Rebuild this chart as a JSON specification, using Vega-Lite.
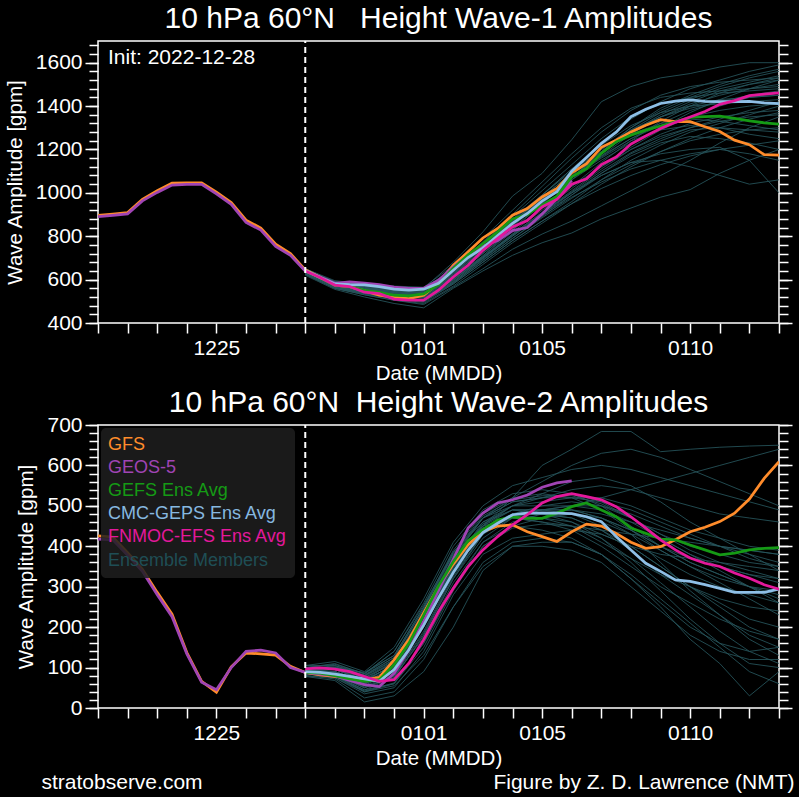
{
"$schema":"https://vega.github.io/schema/vega-lite/v6.json",
"background":"#000000",
"padding":{"left":4,"top":3,"right":4,"bottom":4},
"config":{
 "font":"Liberation Sans",
 "view":{"stroke":"#ffffff","strokeWidth":1.5},
 "axis":{"grid":false,"domain":false,"tickColor":"#ffffff","tickWidth":1.5,"labelColor":"#ffffff","labelFontSize":21,"titleColor":"#ffffff","titleFontSize":20.5,"titleFontWeight":"normal"},
 "title":{"color":"#ffffff","fontSize":30,"fontWeight":"normal","offset":6},
 "concat":{"spacing":2}
},
"datasets":{
"w1_ana":[
{"model":"GFS","date":"2022-12-21T00:00","value":896},{"model":"GFS","date":"2022-12-21T12:00","value":902},{"model":"GFS","date":"2022-12-22T00:00","value":909},{"model":"GFS","date":"2022-12-22T12:00","value":970},{"model":"GFS","date":"2022-12-23T00:00","value":1010},{"model":"GFS","date":"2022-12-23T12:00","value":1045},{"model":"GFS","date":"2022-12-24T00:00","value":1046},{"model":"GFS","date":"2022-12-24T12:00","value":1046},{"model":"GFS","date":"2022-12-25T00:00","value":1003},{"model":"GFS","date":"2022-12-25T12:00","value":955},{"model":"GFS","date":"2022-12-26T00:00","value":874},{"model":"GFS","date":"2022-12-26T12:00","value":838},{"model":"GFS","date":"2022-12-27T00:00","value":763},{"model":"GFS","date":"2022-12-27T12:00","value":720},{"model":"GFS","date":"2022-12-28T00:00","value":645},
{"model":"GEOS-5","date":"2022-12-21T00:00","value":890},{"model":"GEOS-5","date":"2022-12-21T12:00","value":896},{"model":"GEOS-5","date":"2022-12-22T00:00","value":903},{"model":"GEOS-5","date":"2022-12-22T12:00","value":963},{"model":"GEOS-5","date":"2022-12-23T00:00","value":1002},{"model":"GEOS-5","date":"2022-12-23T12:00","value":1036},{"model":"GEOS-5","date":"2022-12-24T00:00","value":1039},{"model":"GEOS-5","date":"2022-12-24T12:00","value":1039},{"model":"GEOS-5","date":"2022-12-25T00:00","value":995},{"model":"GEOS-5","date":"2022-12-25T12:00","value":947},{"model":"GEOS-5","date":"2022-12-26T00:00","value":864},{"model":"GEOS-5","date":"2022-12-26T12:00","value":828},{"model":"GEOS-5","date":"2022-12-27T00:00","value":753},{"model":"GEOS-5","date":"2022-12-27T12:00","value":712},{"model":"GEOS-5","date":"2022-12-28T00:00","value":640}
],
"w1_fc":[
{"model":"GFS","date":"2022-12-28T00:00","value":645},{"model":"GFS","date":"2022-12-28T12:00","value":611},{"model":"GFS","date":"2022-12-29T00:00","value":574},{"model":"GFS","date":"2022-12-29T12:00","value":568},{"model":"GFS","date":"2022-12-30T00:00","value":548},{"model":"GFS","date":"2022-12-30T12:00","value":528},{"model":"GFS","date":"2022-12-31T00:00","value":518},{"model":"GFS","date":"2022-12-31T12:00","value":512},{"model":"GFS","date":"2023-01-01T00:00","value":528},{"model":"GFS","date":"2023-01-01T12:00","value":585},{"model":"GFS","date":"2023-01-02T00:00","value":666},{"model":"GFS","date":"2023-01-02T12:00","value":728},{"model":"GFS","date":"2023-01-03T00:00","value":792},{"model":"GFS","date":"2023-01-03T12:00","value":836},{"model":"GFS","date":"2023-01-04T00:00","value":897},{"model":"GFS","date":"2023-01-04T12:00","value":928},{"model":"GFS","date":"2023-01-05T00:00","value":981},{"model":"GFS","date":"2023-01-05T12:00","value":1020},{"model":"GFS","date":"2023-01-06T00:00","value":1092},{"model":"GFS","date":"2023-01-06T12:00","value":1135},{"model":"GFS","date":"2023-01-07T00:00","value":1210},{"model":"GFS","date":"2023-01-07T12:00","value":1243},{"model":"GFS","date":"2023-01-08T00:00","value":1281},{"model":"GFS","date":"2023-01-08T12:00","value":1312},{"model":"GFS","date":"2023-01-09T00:00","value":1337},{"model":"GFS","date":"2023-01-09T12:00","value":1328},{"model":"GFS","date":"2023-01-10T00:00","value":1328},{"model":"GFS","date":"2023-01-10T12:00","value":1305},{"model":"GFS","date":"2023-01-11T00:00","value":1283},{"model":"GFS","date":"2023-01-11T12:00","value":1243},{"model":"GFS","date":"2023-01-12T00:00","value":1222},{"model":"GFS","date":"2023-01-12T12:00","value":1176},{"model":"GFS","date":"2023-01-13T00:00","value":1174},
{"model":"GEOS-5","date":"2022-12-28T00:00","value":640},{"model":"GEOS-5","date":"2022-12-28T12:00","value":612},{"model":"GEOS-5","date":"2022-12-29T00:00","value":583},{"model":"GEOS-5","date":"2022-12-29T12:00","value":589},{"model":"GEOS-5","date":"2022-12-30T00:00","value":584},{"model":"GEOS-5","date":"2022-12-30T12:00","value":577},{"model":"GEOS-5","date":"2022-12-31T00:00","value":565},{"model":"GEOS-5","date":"2022-12-31T12:00","value":560},{"model":"GEOS-5","date":"2023-01-01T00:00","value":560},{"model":"GEOS-5","date":"2023-01-01T12:00","value":597},{"model":"GEOS-5","date":"2023-01-02T00:00","value":658},{"model":"GEOS-5","date":"2023-01-02T12:00","value":712},{"model":"GEOS-5","date":"2023-01-03T00:00","value":755},{"model":"GEOS-5","date":"2023-01-03T12:00","value":780},{"model":"GEOS-5","date":"2023-01-04T00:00","value":826},{"model":"GEOS-5","date":"2023-01-04T12:00","value":840},{"model":"GEOS-5","date":"2023-01-05T00:00","value":902},{"model":"GEOS-5","date":"2023-01-05T12:00","value":975},{"model":"GEOS-5","date":"2023-01-06T00:00","value":1058},
{"model":"GEFS Ens Avg","date":"2022-12-28T00:00","value":640},{"model":"GEFS Ens Avg","date":"2022-12-28T12:00","value":608},{"model":"GEFS Ens Avg","date":"2022-12-29T00:00","value":574},{"model":"GEFS Ens Avg","date":"2022-12-29T12:00","value":568},{"model":"GEFS Ens Avg","date":"2022-12-30T00:00","value":551},{"model":"GEFS Ens Avg","date":"2022-12-30T12:00","value":541},{"model":"GEFS Ens Avg","date":"2022-12-31T00:00","value":528},{"model":"GEFS Ens Avg","date":"2022-12-31T12:00","value":525},{"model":"GEFS Ens Avg","date":"2023-01-01T00:00","value":534},{"model":"GEFS Ens Avg","date":"2023-01-01T12:00","value":578},{"model":"GEFS Ens Avg","date":"2023-01-02T00:00","value":652},{"model":"GEFS Ens Avg","date":"2023-01-02T12:00","value":714},{"model":"GEFS Ens Avg","date":"2023-01-03T00:00","value":766},{"model":"GEFS Ens Avg","date":"2023-01-03T12:00","value":820},{"model":"GEFS Ens Avg","date":"2023-01-04T00:00","value":880},{"model":"GEFS Ens Avg","date":"2023-01-04T12:00","value":900},{"model":"GEFS Ens Avg","date":"2023-01-05T00:00","value":943},{"model":"GEFS Ens Avg","date":"2023-01-05T12:00","value":985},{"model":"GEFS Ens Avg","date":"2023-01-06T00:00","value":1074},{"model":"GEFS Ens Avg","date":"2023-01-06T12:00","value":1112},{"model":"GEFS Ens Avg","date":"2023-01-07T00:00","value":1182},{"model":"GEFS Ens Avg","date":"2023-01-07T12:00","value":1235},{"model":"GEFS Ens Avg","date":"2023-01-08T00:00","value":1266},{"model":"GEFS Ens Avg","date":"2023-01-08T12:00","value":1289},{"model":"GEFS Ens Avg","date":"2023-01-09T00:00","value":1308},{"model":"GEFS Ens Avg","date":"2023-01-09T12:00","value":1328},{"model":"GEFS Ens Avg","date":"2023-01-10T00:00","value":1348},{"model":"GEFS Ens Avg","date":"2023-01-10T12:00","value":1351},{"model":"GEFS Ens Avg","date":"2023-01-11T00:00","value":1354},{"model":"GEFS Ens Avg","date":"2023-01-11T12:00","value":1343},{"model":"GEFS Ens Avg","date":"2023-01-12T00:00","value":1332},{"model":"GEFS Ens Avg","date":"2023-01-12T12:00","value":1323},{"model":"GEFS Ens Avg","date":"2023-01-13T00:00","value":1317},
{"model":"CMC-GEPS Ens Avg","date":"2022-12-28T00:00","value":642},{"model":"CMC-GEPS Ens Avg","date":"2022-12-28T12:00","value":610},{"model":"CMC-GEPS Ens Avg","date":"2022-12-29T00:00","value":580},{"model":"CMC-GEPS Ens Avg","date":"2022-12-29T12:00","value":577},{"model":"CMC-GEPS Ens Avg","date":"2022-12-30T00:00","value":576},{"model":"CMC-GEPS Ens Avg","date":"2022-12-30T12:00","value":568},{"model":"CMC-GEPS Ens Avg","date":"2022-12-31T00:00","value":556},{"model":"CMC-GEPS Ens Avg","date":"2022-12-31T12:00","value":552},{"model":"CMC-GEPS Ens Avg","date":"2023-01-01T00:00","value":556},{"model":"CMC-GEPS Ens Avg","date":"2023-01-01T12:00","value":583},{"model":"CMC-GEPS Ens Avg","date":"2023-01-02T00:00","value":643},{"model":"CMC-GEPS Ens Avg","date":"2023-01-02T12:00","value":702},{"model":"CMC-GEPS Ens Avg","date":"2023-01-03T00:00","value":745},{"model":"CMC-GEPS Ens Avg","date":"2023-01-03T12:00","value":803},{"model":"CMC-GEPS Ens Avg","date":"2023-01-04T00:00","value":859},{"model":"CMC-GEPS Ens Avg","date":"2023-01-04T12:00","value":905},{"model":"CMC-GEPS Ens Avg","date":"2023-01-05T00:00","value":962},{"model":"CMC-GEPS Ens Avg","date":"2023-01-05T12:00","value":1005},{"model":"CMC-GEPS Ens Avg","date":"2023-01-06T00:00","value":1100},{"model":"CMC-GEPS Ens Avg","date":"2023-01-06T12:00","value":1163},{"model":"CMC-GEPS Ens Avg","date":"2023-01-07T00:00","value":1228},{"model":"CMC-GEPS Ens Avg","date":"2023-01-07T12:00","value":1280},{"model":"CMC-GEPS Ens Avg","date":"2023-01-08T00:00","value":1351},{"model":"CMC-GEPS Ens Avg","date":"2023-01-08T12:00","value":1385},{"model":"CMC-GEPS Ens Avg","date":"2023-01-09T00:00","value":1412},{"model":"CMC-GEPS Ens Avg","date":"2023-01-09T12:00","value":1423},{"model":"CMC-GEPS Ens Avg","date":"2023-01-10T00:00","value":1429},{"model":"CMC-GEPS Ens Avg","date":"2023-01-10T12:00","value":1422},{"model":"CMC-GEPS Ens Avg","date":"2023-01-11T00:00","value":1420},{"model":"CMC-GEPS Ens Avg","date":"2023-01-11T12:00","value":1420},{"model":"CMC-GEPS Ens Avg","date":"2023-01-12T00:00","value":1422},{"model":"CMC-GEPS Ens Avg","date":"2023-01-12T12:00","value":1415},{"model":"CMC-GEPS Ens Avg","date":"2023-01-13T00:00","value":1411},
{"model":"FNMOC-EFS Ens Avg","date":"2022-12-28T00:00","value":640},{"model":"FNMOC-EFS Ens Avg","date":"2022-12-28T12:00","value":610},{"model":"FNMOC-EFS Ens Avg","date":"2022-12-29T00:00","value":575},{"model":"FNMOC-EFS Ens Avg","date":"2022-12-29T12:00","value":568},{"model":"FNMOC-EFS Ens Avg","date":"2022-12-30T00:00","value":542},{"model":"FNMOC-EFS Ens Avg","date":"2022-12-30T12:00","value":535},{"model":"FNMOC-EFS Ens Avg","date":"2022-12-31T00:00","value":510},{"model":"FNMOC-EFS Ens Avg","date":"2022-12-31T12:00","value":505},{"model":"FNMOC-EFS Ens Avg","date":"2023-01-01T00:00","value":505},{"model":"FNMOC-EFS Ens Avg","date":"2023-01-01T12:00","value":551},{"model":"FNMOC-EFS Ens Avg","date":"2023-01-02T00:00","value":612},{"model":"FNMOC-EFS Ens Avg","date":"2023-01-02T12:00","value":666},{"model":"FNMOC-EFS Ens Avg","date":"2023-01-03T00:00","value":735},{"model":"FNMOC-EFS Ens Avg","date":"2023-01-03T12:00","value":790},{"model":"FNMOC-EFS Ens Avg","date":"2023-01-04T00:00","value":843},{"model":"FNMOC-EFS Ens Avg","date":"2023-01-04T12:00","value":872},{"model":"FNMOC-EFS Ens Avg","date":"2023-01-05T00:00","value":935},{"model":"FNMOC-EFS Ens Avg","date":"2023-01-05T12:00","value":970},{"model":"FNMOC-EFS Ens Avg","date":"2023-01-06T00:00","value":1040},{"model":"FNMOC-EFS Ens Avg","date":"2023-01-06T12:00","value":1065},{"model":"FNMOC-EFS Ens Avg","date":"2023-01-07T00:00","value":1130},{"model":"FNMOC-EFS Ens Avg","date":"2023-01-07T12:00","value":1165},{"model":"FNMOC-EFS Ens Avg","date":"2023-01-08T00:00","value":1225},{"model":"FNMOC-EFS Ens Avg","date":"2023-01-08T12:00","value":1262},{"model":"FNMOC-EFS Ens Avg","date":"2023-01-09T00:00","value":1297},{"model":"FNMOC-EFS Ens Avg","date":"2023-01-09T12:00","value":1325},{"model":"FNMOC-EFS Ens Avg","date":"2023-01-10T00:00","value":1350},{"model":"FNMOC-EFS Ens Avg","date":"2023-01-10T12:00","value":1375},{"model":"FNMOC-EFS Ens Avg","date":"2023-01-11T00:00","value":1408},{"model":"FNMOC-EFS Ens Avg","date":"2023-01-11T12:00","value":1425},{"model":"FNMOC-EFS Ens Avg","date":"2023-01-12T00:00","value":1448},{"model":"FNMOC-EFS Ens Avg","date":"2023-01-12T12:00","value":1455},{"model":"FNMOC-EFS Ens Avg","date":"2023-01-13T00:00","value":1461}
],
"w1_ens":[
{"member":"T1","date":"2022-12-28T00:00","value":645},{"member":"T1","date":"2022-12-29T00:00","value":590},{"member":"T1","date":"2022-12-30T00:00","value":575},{"member":"T1","date":"2022-12-31T00:00","value":560},{"member":"T1","date":"2023-01-01T00:00","value":560},{"member":"T1","date":"2023-01-02T00:00","value":650},{"member":"T1","date":"2023-01-03T00:00","value":760},{"member":"T1","date":"2023-01-04T00:00","value":880},{"member":"T1","date":"2023-01-05T00:00","value":990},{"member":"T1","date":"2023-01-06T00:00","value":1110},{"member":"T1","date":"2023-01-07T00:00","value":1230},{"member":"T1","date":"2023-01-08T00:00","value":1340},{"member":"T1","date":"2023-01-09T00:00","value":1420},{"member":"T1","date":"2023-01-10T00:00","value":1480},{"member":"T1","date":"2023-01-11T00:00","value":1520},{"member":"T1","date":"2023-01-12T00:00","value":1560},{"member":"T1","date":"2023-01-13T00:00","value":1590},
{"member":"T2","date":"2022-12-28T00:00","value":640},{"member":"T2","date":"2022-12-29T00:00","value":585},{"member":"T2","date":"2022-12-30T00:00","value":570},{"member":"T2","date":"2022-12-31T00:00","value":565},{"member":"T2","date":"2023-01-01T00:00","value":560},{"member":"T2","date":"2023-01-02T00:00","value":680},{"member":"T2","date":"2023-01-03T00:00","value":820},{"member":"T2","date":"2023-01-04T00:00","value":985},{"member":"T2","date":"2023-01-05T00:00","value":1090},{"member":"T2","date":"2023-01-06T00:00","value":1245},{"member":"T2","date":"2023-01-07T00:00","value":1420},{"member":"T2","date":"2023-01-08T00:00","value":1490},{"member":"T2","date":"2023-01-09T00:00","value":1530},{"member":"T2","date":"2023-01-10T00:00","value":1550},{"member":"T2","date":"2023-01-11T00:00","value":1580},{"member":"T2","date":"2023-01-12T00:00","value":1600},{"member":"T2","date":"2023-01-13T00:00","value":1600},
{"member":"T3","date":"2022-12-28T00:00","value":635},{"member":"T3","date":"2022-12-29T00:00","value":575},{"member":"T3","date":"2022-12-30T00:00","value":550},{"member":"T3","date":"2022-12-31T00:00","value":530},{"member":"T3","date":"2023-01-01T00:00","value":520},{"member":"T3","date":"2023-01-02T00:00","value":610},{"member":"T3","date":"2023-01-03T00:00","value":720},{"member":"T3","date":"2023-01-04T00:00","value":830},{"member":"T3","date":"2023-01-05T00:00","value":930},{"member":"T3","date":"2023-01-06T00:00","value":1030},{"member":"T3","date":"2023-01-07T00:00","value":1120},{"member":"T3","date":"2023-01-08T00:00","value":1200},{"member":"T3","date":"2023-01-09T00:00","value":1260},{"member":"T3","date":"2023-01-10T00:00","value":1300},{"member":"T3","date":"2023-01-11T00:00","value":1330},{"member":"T3","date":"2023-01-12T00:00","value":1350},{"member":"T3","date":"2023-01-13T00:00","value":1360},
{"member":"T4","date":"2022-12-28T00:00","value":650},{"member":"T4","date":"2022-12-29T00:00","value":580},{"member":"T4","date":"2022-12-30T00:00","value":560},{"member":"T4","date":"2022-12-31T00:00","value":545},{"member":"T4","date":"2023-01-01T00:00","value":535},{"member":"T4","date":"2023-01-02T00:00","value":625},{"member":"T4","date":"2023-01-03T00:00","value":735},{"member":"T4","date":"2023-01-04T00:00","value":845},{"member":"T4","date":"2023-01-05T00:00","value":960},{"member":"T4","date":"2023-01-06T00:00","value":1070},{"member":"T4","date":"2023-01-07T00:00","value":1180},{"member":"T4","date":"2023-01-08T00:00","value":1280},{"member":"T4","date":"2023-01-09T00:00","value":1350},{"member":"T4","date":"2023-01-10T00:00","value":1400},{"member":"T4","date":"2023-01-11T00:00","value":1430},{"member":"T4","date":"2023-01-12T00:00","value":1440},{"member":"T4","date":"2023-01-13T00:00","value":1450},
{"member":"T5","date":"2022-12-28T00:00","value":630},{"member":"T5","date":"2022-12-29T00:00","value":570},{"member":"T5","date":"2022-12-30T00:00","value":540},{"member":"T5","date":"2022-12-31T00:00","value":510},{"member":"T5","date":"2023-01-01T00:00","value":495},{"member":"T5","date":"2023-01-02T00:00","value":580},{"member":"T5","date":"2023-01-03T00:00","value":680},{"member":"T5","date":"2023-01-04T00:00","value":780},{"member":"T5","date":"2023-01-05T00:00","value":870},{"member":"T5","date":"2023-01-06T00:00","value":960},{"member":"T5","date":"2023-01-07T00:00","value":1060},{"member":"T5","date":"2023-01-08T00:00","value":1150},{"member":"T5","date":"2023-01-09T00:00","value":1220},{"member":"T5","date":"2023-01-10T00:00","value":1280},{"member":"T5","date":"2023-01-11T00:00","value":1320},{"member":"T5","date":"2023-01-12T00:00","value":1360},{"member":"T5","date":"2023-01-13T00:00","value":1400},
{"member":"T6","date":"2022-12-28T00:00","value":640},{"member":"T6","date":"2022-12-29T00:00","value":575},{"member":"T6","date":"2022-12-30T00:00","value":555},{"member":"T6","date":"2022-12-31T00:00","value":540},{"member":"T6","date":"2023-01-01T00:00","value":530},{"member":"T6","date":"2023-01-02T00:00","value":620},{"member":"T6","date":"2023-01-03T00:00","value":740},{"member":"T6","date":"2023-01-04T00:00","value":860},{"member":"T6","date":"2023-01-05T00:00","value":980},{"member":"T6","date":"2023-01-06T00:00","value":1090},{"member":"T6","date":"2023-01-07T00:00","value":1190},{"member":"T6","date":"2023-01-08T00:00","value":1270},{"member":"T6","date":"2023-01-09T00:00","value":1320},{"member":"T6","date":"2023-01-10T00:00","value":1340},{"member":"T6","date":"2023-01-11T00:00","value":1330},{"member":"T6","date":"2023-01-12T00:00","value":1310},{"member":"T6","date":"2023-01-13T00:00","value":1290},
{"member":"T7","date":"2022-12-28T00:00","value":625},{"member":"T7","date":"2022-12-29T00:00","value":560},{"member":"T7","date":"2022-12-30T00:00","value":530},{"member":"T7","date":"2022-12-31T00:00","value":505},{"member":"T7","date":"2023-01-01T00:00","value":485},{"member":"T7","date":"2023-01-02T00:00","value":565},{"member":"T7","date":"2023-01-03T00:00","value":650},{"member":"T7","date":"2023-01-04T00:00","value":740},{"member":"T7","date":"2023-01-05T00:00","value":810},{"member":"T7","date":"2023-01-06T00:00","value":870},{"member":"T7","date":"2023-01-07T00:00","value":940},{"member":"T7","date":"2023-01-08T00:00","value":1010},{"member":"T7","date":"2023-01-09T00:00","value":1080},{"member":"T7","date":"2023-01-10T00:00","value":1150},{"member":"T7","date":"2023-01-11T00:00","value":1230},{"member":"T7","date":"2023-01-12T00:00","value":1300},{"member":"T7","date":"2023-01-13T00:00","value":1350},
{"member":"T8","date":"2022-12-28T00:00","value":645},{"member":"T8","date":"2022-12-29T00:00","value":585},{"member":"T8","date":"2022-12-30T00:00","value":565},{"member":"T8","date":"2022-12-31T00:00","value":550},{"member":"T8","date":"2023-01-01T00:00","value":545},{"member":"T8","date":"2023-01-02T00:00","value":640},{"member":"T8","date":"2023-01-03T00:00","value":760},{"member":"T8","date":"2023-01-04T00:00","value":870},{"member":"T8","date":"2023-01-05T00:00","value":970},{"member":"T8","date":"2023-01-06T00:00","value":1060},{"member":"T8","date":"2023-01-07T00:00","value":1150},{"member":"T8","date":"2023-01-08T00:00","value":1230},{"member":"T8","date":"2023-01-09T00:00","value":1300},{"member":"T8","date":"2023-01-10T00:00","value":1370},{"member":"T8","date":"2023-01-11T00:00","value":1430},{"member":"T8","date":"2023-01-12T00:00","value":1480},{"member":"T8","date":"2023-01-13T00:00","value":1520},
{"member":"T9","date":"2022-12-28T00:00","value":635},{"member":"T9","date":"2022-12-29T00:00","value":570},{"member":"T9","date":"2022-12-30T00:00","value":545},{"member":"T9","date":"2022-12-31T00:00","value":525},{"member":"T9","date":"2023-01-01T00:00","value":515},{"member":"T9","date":"2023-01-02T00:00","value":600},{"member":"T9","date":"2023-01-03T00:00","value":700},{"member":"T9","date":"2023-01-04T00:00","value":800},{"member":"T9","date":"2023-01-05T00:00","value":900},{"member":"T9","date":"2023-01-06T00:00","value":1000},{"member":"T9","date":"2023-01-07T00:00","value":1090},{"member":"T9","date":"2023-01-08T00:00","value":1170},{"member":"T9","date":"2023-01-09T00:00","value":1230},{"member":"T9","date":"2023-01-10T00:00","value":1260},{"member":"T9","date":"2023-01-11T00:00","value":1250},{"member":"T9","date":"2023-01-12T00:00","value":1230},{"member":"T9","date":"2023-01-13T00:00","value":1200},
{"member":"T10","date":"2022-12-28T00:00","value":640},{"member":"T10","date":"2022-12-29T00:00","value":580},{"member":"T10","date":"2022-12-30T00:00","value":560},{"member":"T10","date":"2022-12-31T00:00","value":540},{"member":"T10","date":"2023-01-01T00:00","value":530},{"member":"T10","date":"2023-01-02T00:00","value":615},{"member":"T10","date":"2023-01-03T00:00","value":720},{"member":"T10","date":"2023-01-04T00:00","value":830},{"member":"T10","date":"2023-01-05T00:00","value":930},{"member":"T10","date":"2023-01-06T00:00","value":1030},{"member":"T10","date":"2023-01-07T00:00","value":1140},{"member":"T10","date":"2023-01-08T00:00","value":1240},{"member":"T10","date":"2023-01-09T00:00","value":1330},{"member":"T10","date":"2023-01-10T00:00","value":1400},{"member":"T10","date":"2023-01-11T00:00","value":1460},{"member":"T10","date":"2023-01-12T00:00","value":1500},{"member":"T10","date":"2023-01-13T00:00","value":1530},
{"member":"T11","date":"2022-12-28T00:00","value":630},{"member":"T11","date":"2022-12-29T00:00","value":565},{"member":"T11","date":"2022-12-30T00:00","value":535},{"member":"T11","date":"2022-12-31T00:00","value":515},{"member":"T11","date":"2023-01-01T00:00","value":500},{"member":"T11","date":"2023-01-02T00:00","value":585},{"member":"T11","date":"2023-01-03T00:00","value":690},{"member":"T11","date":"2023-01-04T00:00","value":790},{"member":"T11","date":"2023-01-05T00:00","value":890},{"member":"T11","date":"2023-01-06T00:00","value":990},{"member":"T11","date":"2023-01-07T00:00","value":1090},{"member":"T11","date":"2023-01-08T00:00","value":1180},{"member":"T11","date":"2023-01-09T00:00","value":1240},{"member":"T11","date":"2023-01-10T00:00","value":1290},{"member":"T11","date":"2023-01-11T00:00","value":1300},{"member":"T11","date":"2023-01-12T00:00","value":1290},{"member":"T11","date":"2023-01-13T00:00","value":1280},
{"member":"T12","date":"2022-12-28T00:00","value":650},{"member":"T12","date":"2022-12-29T00:00","value":590},{"member":"T12","date":"2022-12-30T00:00","value":570},{"member":"T12","date":"2022-12-31T00:00","value":555},{"member":"T12","date":"2023-01-01T00:00","value":550},{"member":"T12","date":"2023-01-02T00:00","value":650},{"member":"T12","date":"2023-01-03T00:00","value":770},{"member":"T12","date":"2023-01-04T00:00","value":890},{"member":"T12","date":"2023-01-05T00:00","value":1010},{"member":"T12","date":"2023-01-06T00:00","value":1130},{"member":"T12","date":"2023-01-07T00:00","value":1250},{"member":"T12","date":"2023-01-08T00:00","value":1350},{"member":"T12","date":"2023-01-09T00:00","value":1410},{"member":"T12","date":"2023-01-10T00:00","value":1440},{"member":"T12","date":"2023-01-11T00:00","value":1460},{"member":"T12","date":"2023-01-12T00:00","value":1470},{"member":"T12","date":"2023-01-13T00:00","value":1480},
{"member":"T13","date":"2022-12-28T00:00","value":620},{"member":"T13","date":"2022-12-29T00:00","value":555},{"member":"T13","date":"2022-12-30T00:00","value":520},{"member":"T13","date":"2022-12-31T00:00","value":490},{"member":"T13","date":"2023-01-01T00:00","value":470},{"member":"T13","date":"2023-01-02T00:00","value":560},{"member":"T13","date":"2023-01-03T00:00","value":640},{"member":"T13","date":"2023-01-04T00:00","value":712},{"member":"T13","date":"2023-01-05T00:00","value":770},{"member":"T13","date":"2023-01-06T00:00","value":815},{"member":"T13","date":"2023-01-07T00:00","value":880},{"member":"T13","date":"2023-01-08T00:00","value":930},{"member":"T13","date":"2023-01-09T00:00","value":980},{"member":"T13","date":"2023-01-10T00:00","value":1015},{"member":"T13","date":"2023-01-11T00:00","value":1090},{"member":"T13","date":"2023-01-12T00:00","value":1150},{"member":"T13","date":"2023-01-13T00:00","value":1200},
{"member":"T14","date":"2022-12-28T00:00","value":640},{"member":"T14","date":"2022-12-29T00:00","value":575},{"member":"T14","date":"2022-12-30T00:00","value":550},{"member":"T14","date":"2022-12-31T00:00","value":530},{"member":"T14","date":"2023-01-01T00:00","value":525},{"member":"T14","date":"2023-01-02T00:00","value":610},{"member":"T14","date":"2023-01-03T00:00","value":710},{"member":"T14","date":"2023-01-04T00:00","value":820},{"member":"T14","date":"2023-01-05T00:00","value":920},{"member":"T14","date":"2023-01-06T00:00","value":1020},{"member":"T14","date":"2023-01-07T00:00","value":1120},{"member":"T14","date":"2023-01-08T00:00","value":1210},{"member":"T14","date":"2023-01-09T00:00","value":1290},{"member":"T14","date":"2023-01-10T00:00","value":1350},{"member":"T14","date":"2023-01-11T00:00","value":1400},{"member":"T14","date":"2023-01-12T00:00","value":1440},{"member":"T14","date":"2023-01-13T00:00","value":1460},
{"member":"T15","date":"2022-12-28T00:00","value":645},{"member":"T15","date":"2022-12-29T00:00","value":580},{"member":"T15","date":"2022-12-30T00:00","value":560},{"member":"T15","date":"2022-12-31T00:00","value":545},{"member":"T15","date":"2023-01-01T00:00","value":540},{"member":"T15","date":"2023-01-02T00:00","value":630},{"member":"T15","date":"2023-01-03T00:00","value":750},{"member":"T15","date":"2023-01-04T00:00","value":870},{"member":"T15","date":"2023-01-05T00:00","value":990},{"member":"T15","date":"2023-01-06T00:00","value":1110},{"member":"T15","date":"2023-01-07T00:00","value":1220},{"member":"T15","date":"2023-01-08T00:00","value":1310},{"member":"T15","date":"2023-01-09T00:00","value":1370},{"member":"T15","date":"2023-01-10T00:00","value":1400},{"member":"T15","date":"2023-01-11T00:00","value":1410},{"member":"T15","date":"2023-01-12T00:00","value":1420},{"member":"T15","date":"2023-01-13T00:00","value":1430},
{"member":"T16","date":"2022-12-28T00:00","value":630},{"member":"T16","date":"2022-12-29T00:00","value":565},{"member":"T16","date":"2022-12-30T00:00","value":540},{"member":"T16","date":"2022-12-31T00:00","value":515},{"member":"T16","date":"2023-01-01T00:00","value":505},{"member":"T16","date":"2023-01-02T00:00","value":590},{"member":"T16","date":"2023-01-03T00:00","value":695},{"member":"T16","date":"2023-01-04T00:00","value":800},{"member":"T16","date":"2023-01-05T00:00","value":900},{"member":"T16","date":"2023-01-06T00:00","value":990},{"member":"T16","date":"2023-01-07T00:00","value":1080},{"member":"T16","date":"2023-01-08T00:00","value":1140},{"member":"T16","date":"2023-01-09T00:00","value":1150},{"member":"T16","date":"2023-01-10T00:00","value":1120},{"member":"T16","date":"2023-01-11T00:00","value":1080},{"member":"T16","date":"2023-01-12T00:00","value":1040},{"member":"T16","date":"2023-01-13T00:00","value":1060},
{"member":"T17","date":"2022-12-28T00:00","value":640},{"member":"T17","date":"2022-12-29T00:00","value":575},{"member":"T17","date":"2022-12-30T00:00","value":555},{"member":"T17","date":"2022-12-31T00:00","value":535},{"member":"T17","date":"2023-01-01T00:00","value":525},{"member":"T17","date":"2023-01-02T00:00","value":615},{"member":"T17","date":"2023-01-03T00:00","value":730},{"member":"T17","date":"2023-01-04T00:00","value":850},{"member":"T17","date":"2023-01-05T00:00","value":970},{"member":"T17","date":"2023-01-06T00:00","value":1080},{"member":"T17","date":"2023-01-07T00:00","value":1190},{"member":"T17","date":"2023-01-08T00:00","value":1290},{"member":"T17","date":"2023-01-09T00:00","value":1370},{"member":"T17","date":"2023-01-10T00:00","value":1430},{"member":"T17","date":"2023-01-11T00:00","value":1480},{"member":"T17","date":"2023-01-12T00:00","value":1510},{"member":"T17","date":"2023-01-13T00:00","value":1540},
{"member":"T18","date":"2022-12-28T00:00","value":650},{"member":"T18","date":"2022-12-29T00:00","value":590},{"member":"T18","date":"2022-12-30T00:00","value":575},{"member":"T18","date":"2022-12-31T00:00","value":560},{"member":"T18","date":"2023-01-01T00:00","value":555},{"member":"T18","date":"2023-01-02T00:00","value":650},{"member":"T18","date":"2023-01-03T00:00","value":775},{"member":"T18","date":"2023-01-04T00:00","value":900},{"member":"T18","date":"2023-01-05T00:00","value":1030},{"member":"T18","date":"2023-01-06T00:00","value":1160},{"member":"T18","date":"2023-01-07T00:00","value":1280},{"member":"T18","date":"2023-01-08T00:00","value":1380},{"member":"T18","date":"2023-01-09T00:00","value":1450},{"member":"T18","date":"2023-01-10T00:00","value":1490},{"member":"T18","date":"2023-01-11T00:00","value":1510},{"member":"T18","date":"2023-01-12T00:00","value":1520},{"member":"T18","date":"2023-01-13T00:00","value":1530},
{"member":"T19","date":"2022-12-28T00:00","value":625},{"member":"T19","date":"2022-12-29T00:00","value":560},{"member":"T19","date":"2022-12-30T00:00","value":530},{"member":"T19","date":"2022-12-31T00:00","value":505},{"member":"T19","date":"2023-01-01T00:00","value":490},{"member":"T19","date":"2023-01-02T00:00","value":570},{"member":"T19","date":"2023-01-03T00:00","value":670},{"member":"T19","date":"2023-01-04T00:00","value":770},{"member":"T19","date":"2023-01-05T00:00","value":860},{"member":"T19","date":"2023-01-06T00:00","value":950},{"member":"T19","date":"2023-01-07T00:00","value":1040},{"member":"T19","date":"2023-01-08T00:00","value":1120},{"member":"T19","date":"2023-01-09T00:00","value":1190},{"member":"T19","date":"2023-01-10T00:00","value":1250},{"member":"T19","date":"2023-01-11T00:00","value":1300},{"member":"T19","date":"2023-01-12T00:00","value":1340},{"member":"T19","date":"2023-01-13T00:00","value":1370},
{"member":"T20","date":"2022-12-28T00:00","value":645},{"member":"T20","date":"2022-12-29T00:00","value":585},{"member":"T20","date":"2022-12-30T00:00","value":565},{"member":"T20","date":"2022-12-31T00:00","value":550},{"member":"T20","date":"2023-01-01T00:00","value":540},{"member":"T20","date":"2023-01-02T00:00","value":630},{"member":"T20","date":"2023-01-03T00:00","value":745},{"member":"T20","date":"2023-01-04T00:00","value":860},{"member":"T20","date":"2023-01-05T00:00","value":970},{"member":"T20","date":"2023-01-06T00:00","value":1070},{"member":"T20","date":"2023-01-07T00:00","value":1160},{"member":"T20","date":"2023-01-08T00:00","value":1240},{"member":"T20","date":"2023-01-09T00:00","value":1290},{"member":"T20","date":"2023-01-10T00:00","value":1310},{"member":"T20","date":"2023-01-11T00:00","value":1300},{"member":"T20","date":"2023-01-12T00:00","value":1270},{"member":"T20","date":"2023-01-13T00:00","value":1250},
{"member":"T21","date":"2022-12-28T00:00","value":635},{"member":"T21","date":"2022-12-29T00:00","value":570},{"member":"T21","date":"2022-12-30T00:00","value":545},{"member":"T21","date":"2022-12-31T00:00","value":520},{"member":"T21","date":"2023-01-01T00:00","value":505},{"member":"T21","date":"2023-01-02T00:00","value":590},{"member":"T21","date":"2023-01-03T00:00","value":700},{"member":"T21","date":"2023-01-04T00:00","value":810},{"member":"T21","date":"2023-01-05T00:00","value":910},{"member":"T21","date":"2023-01-06T00:00","value":1000},{"member":"T21","date":"2023-01-07T00:00","value":1080},{"member":"T21","date":"2023-01-08T00:00","value":1140},{"member":"T21","date":"2023-01-09T00:00","value":1180},{"member":"T21","date":"2023-01-10T00:00","value":1200},{"member":"T21","date":"2023-01-11T00:00","value":1210},{"member":"T21","date":"2023-01-12T00:00","value":1150},{"member":"T21","date":"2023-01-13T00:00","value":1000},
{"member":"T22","date":"2022-12-28T00:00","value":640},{"member":"T22","date":"2022-12-29T00:00","value":580},{"member":"T22","date":"2022-12-30T00:00","value":555},{"member":"T22","date":"2022-12-31T00:00","value":540},{"member":"T22","date":"2023-01-01T00:00","value":530},{"member":"T22","date":"2023-01-02T00:00","value":620},{"member":"T22","date":"2023-01-03T00:00","value":735},{"member":"T22","date":"2023-01-04T00:00","value":850},{"member":"T22","date":"2023-01-05T00:00","value":960},{"member":"T22","date":"2023-01-06T00:00","value":1070},{"member":"T22","date":"2023-01-07T00:00","value":1180},{"member":"T22","date":"2023-01-08T00:00","value":1280},{"member":"T22","date":"2023-01-09T00:00","value":1360},{"member":"T22","date":"2023-01-10T00:00","value":1420},{"member":"T22","date":"2023-01-11T00:00","value":1470},{"member":"T22","date":"2023-01-12T00:00","value":1500},{"member":"T22","date":"2023-01-13T00:00","value":1520},
{"member":"T23","date":"2022-12-28T00:00","value":635},{"member":"T23","date":"2022-12-29T00:00","value":575},{"member":"T23","date":"2022-12-30T00:00","value":550},{"member":"T23","date":"2022-12-31T00:00","value":530},{"member":"T23","date":"2023-01-01T00:00","value":520},{"member":"T23","date":"2023-01-02T00:00","value":605},{"member":"T23","date":"2023-01-03T00:00","value":705},{"member":"T23","date":"2023-01-04T00:00","value":805},{"member":"T23","date":"2023-01-05T00:00","value":895},{"member":"T23","date":"2023-01-06T00:00","value":980},{"member":"T23","date":"2023-01-07T00:00","value":1050},{"member":"T23","date":"2023-01-08T00:00","value":1110},{"member":"T23","date":"2023-01-09T00:00","value":1150},{"member":"T23","date":"2023-01-10T00:00","value":1180},{"member":"T23","date":"2023-01-11T00:00","value":1200},{"member":"T23","date":"2023-01-12T00:00","value":1220},{"member":"T23","date":"2023-01-13T00:00","value":1240},
{"member":"T24","date":"2022-12-28T00:00","value":630},{"member":"T24","date":"2022-12-29T00:00","value":570},{"member":"T24","date":"2022-12-30T00:00","value":545},{"member":"T24","date":"2022-12-31T00:00","value":525},{"member":"T24","date":"2023-01-01T00:00","value":515},{"member":"T24","date":"2023-01-02T00:00","value":600},{"member":"T24","date":"2023-01-03T00:00","value":705},{"member":"T24","date":"2023-01-04T00:00","value":810},{"member":"T24","date":"2023-01-05T00:00","value":910},{"member":"T24","date":"2023-01-06T00:00","value":1010},{"member":"T24","date":"2023-01-07T00:00","value":1110},{"member":"T24","date":"2023-01-08T00:00","value":1200},{"member":"T24","date":"2023-01-09T00:00","value":1270},{"member":"T24","date":"2023-01-10T00:00","value":1320},{"member":"T24","date":"2023-01-11T00:00","value":1350},{"member":"T24","date":"2023-01-12T00:00","value":1370},{"member":"T24","date":"2023-01-13T00:00","value":1380},
{"member":"T25","date":"2022-12-28T00:00","value":645},{"member":"T25","date":"2022-12-29T00:00","value":590},{"member":"T25","date":"2022-12-30T00:00","value":570},{"member":"T25","date":"2022-12-31T00:00","value":555},{"member":"T25","date":"2023-01-01T00:00","value":550},{"member":"T25","date":"2023-01-02T00:00","value":645},{"member":"T25","date":"2023-01-03T00:00","value":760},{"member":"T25","date":"2023-01-04T00:00","value":875},{"member":"T25","date":"2023-01-05T00:00","value":990},{"member":"T25","date":"2023-01-06T00:00","value":1100},{"member":"T25","date":"2023-01-07T00:00","value":1200},{"member":"T25","date":"2023-01-08T00:00","value":1290},{"member":"T25","date":"2023-01-09T00:00","value":1350},{"member":"T25","date":"2023-01-10T00:00","value":1390},{"member":"T25","date":"2023-01-11T00:00","value":1420},{"member":"T25","date":"2023-01-12T00:00","value":1440},{"member":"T25","date":"2023-01-13T00:00","value":1450},
{"member":"T26","date":"2022-12-28T00:00","value":630},{"member":"T26","date":"2022-12-29T00:00","value":568},{"member":"T26","date":"2022-12-30T00:00","value":540},{"member":"T26","date":"2022-12-31T00:00","value":520},{"member":"T26","date":"2023-01-01T00:00","value":508},{"member":"T26","date":"2023-01-02T00:00","value":595},{"member":"T26","date":"2023-01-03T00:00","value":710},{"member":"T26","date":"2023-01-04T00:00","value":830},{"member":"T26","date":"2023-01-05T00:00","value":950},{"member":"T26","date":"2023-01-06T00:00","value":1070},{"member":"T26","date":"2023-01-07T00:00","value":1190},{"member":"T26","date":"2023-01-08T00:00","value":1300},{"member":"T26","date":"2023-01-09T00:00","value":1390},{"member":"T26","date":"2023-01-10T00:00","value":1450},{"member":"T26","date":"2023-01-11T00:00","value":1500},{"member":"T26","date":"2023-01-12T00:00","value":1540},{"member":"T26","date":"2023-01-13T00:00","value":1570},
{"member":"T27","date":"2022-12-28T00:00","value":640},{"member":"T27","date":"2022-12-29T00:00","value":580},{"member":"T27","date":"2022-12-30T00:00","value":560},{"member":"T27","date":"2022-12-31T00:00","value":545},{"member":"T27","date":"2023-01-01T00:00","value":535},{"member":"T27","date":"2023-01-02T00:00","value":625},{"member":"T27","date":"2023-01-03T00:00","value":740},{"member":"T27","date":"2023-01-04T00:00","value":855},{"member":"T27","date":"2023-01-05T00:00","value":965},{"member":"T27","date":"2023-01-06T00:00","value":1070},{"member":"T27","date":"2023-01-07T00:00","value":1165},{"member":"T27","date":"2023-01-08T00:00","value":1250},{"member":"T27","date":"2023-01-09T00:00","value":1320},{"member":"T27","date":"2023-01-10T00:00","value":1380},{"member":"T27","date":"2023-01-11T00:00","value":1420},{"member":"T27","date":"2023-01-12T00:00","value":1450},{"member":"T27","date":"2023-01-13T00:00","value":1470},
{"member":"T28","date":"2022-12-28T00:00","value":650},{"member":"T28","date":"2022-12-29T00:00","value":595},{"member":"T28","date":"2022-12-30T00:00","value":580},{"member":"T28","date":"2022-12-31T00:00","value":570},{"member":"T28","date":"2023-01-01T00:00","value":565},{"member":"T28","date":"2023-01-02T00:00","value":665},{"member":"T28","date":"2023-01-03T00:00","value":790},{"member":"T28","date":"2023-01-04T00:00","value":920},{"member":"T28","date":"2023-01-05T00:00","value":1050},{"member":"T28","date":"2023-01-06T00:00","value":1180},{"member":"T28","date":"2023-01-07T00:00","value":1300},{"member":"T28","date":"2023-01-08T00:00","value":1390},{"member":"T28","date":"2023-01-09T00:00","value":1440},{"member":"T28","date":"2023-01-10T00:00","value":1460},{"member":"T28","date":"2023-01-11T00:00","value":1470},{"member":"T28","date":"2023-01-12T00:00","value":1480},{"member":"T28","date":"2023-01-13T00:00","value":1490},
{"member":"T29","date":"2022-12-28T00:00","value":625},{"member":"T29","date":"2022-12-29T00:00","value":560},{"member":"T29","date":"2022-12-30T00:00","value":535},{"member":"T29","date":"2022-12-31T00:00","value":510},{"member":"T29","date":"2023-01-01T00:00","value":500},{"member":"T29","date":"2023-01-02T00:00","value":580},{"member":"T29","date":"2023-01-03T00:00","value":680},{"member":"T29","date":"2023-01-04T00:00","value":780},{"member":"T29","date":"2023-01-05T00:00","value":870},{"member":"T29","date":"2023-01-06T00:00","value":950},{"member":"T29","date":"2023-01-07T00:00","value":1020},{"member":"T29","date":"2023-01-08T00:00","value":1080},{"member":"T29","date":"2023-01-09T00:00","value":1130},{"member":"T29","date":"2023-01-10T00:00","value":1170},{"member":"T29","date":"2023-01-11T00:00","value":1200},{"member":"T29","date":"2023-01-12T00:00","value":1180},{"member":"T29","date":"2023-01-13T00:00","value":1150},
{"member":"T30","date":"2022-12-28T00:00","value":640},{"member":"T30","date":"2022-12-29T00:00","value":578},{"member":"T30","date":"2022-12-30T00:00","value":552},{"member":"T30","date":"2022-12-31T00:00","value":535},{"member":"T30","date":"2023-01-01T00:00","value":528},{"member":"T30","date":"2023-01-02T00:00","value":612},{"member":"T30","date":"2023-01-03T00:00","value":722},{"member":"T30","date":"2023-01-04T00:00","value":838},{"member":"T30","date":"2023-01-05T00:00","value":950},{"member":"T30","date":"2023-01-06T00:00","value":1060},{"member":"T30","date":"2023-01-07T00:00","value":1170},{"member":"T30","date":"2023-01-08T00:00","value":1270},{"member":"T30","date":"2023-01-09T00:00","value":1350},{"member":"T30","date":"2023-01-10T00:00","value":1410},{"member":"T30","date":"2023-01-11T00:00","value":1450},{"member":"T30","date":"2023-01-12T00:00","value":1480},{"member":"T30","date":"2023-01-13T00:00","value":1500},
{"member":"T31","date":"2022-12-28T00:00","value":635},{"member":"T31","date":"2022-12-29T00:00","value":572},{"member":"T31","date":"2022-12-30T00:00","value":548},{"member":"T31","date":"2022-12-31T00:00","value":528},{"member":"T31","date":"2023-01-01T00:00","value":518},{"member":"T31","date":"2023-01-02T00:00","value":598},{"member":"T31","date":"2023-01-03T00:00","value":700},{"member":"T31","date":"2023-01-04T00:00","value":805},{"member":"T31","date":"2023-01-05T00:00","value":905},{"member":"T31","date":"2023-01-06T00:00","value":1005},{"member":"T31","date":"2023-01-07T00:00","value":1100},{"member":"T31","date":"2023-01-08T00:00","value":1185},{"member":"T31","date":"2023-01-09T00:00","value":1250},{"member":"T31","date":"2023-01-10T00:00","value":1300},{"member":"T31","date":"2023-01-11T00:00","value":1340},{"member":"T31","date":"2023-01-12T00:00","value":1380},{"member":"T31","date":"2023-01-13T00:00","value":1420},
{"member":"T32","date":"2022-12-28T00:00","value":645},{"member":"T32","date":"2022-12-29T00:00","value":588},{"member":"T32","date":"2022-12-30T00:00","value":568},{"member":"T32","date":"2022-12-31T00:00","value":552},{"member":"T32","date":"2023-01-01T00:00","value":545},{"member":"T32","date":"2023-01-02T00:00","value":640},{"member":"T32","date":"2023-01-03T00:00","value":755},{"member":"T32","date":"2023-01-04T00:00","value":868},{"member":"T32","date":"2023-01-05T00:00","value":975},{"member":"T32","date":"2023-01-06T00:00","value":1075},{"member":"T32","date":"2023-01-07T00:00","value":1170},{"member":"T32","date":"2023-01-08T00:00","value":1250},{"member":"T32","date":"2023-01-09T00:00","value":1310},{"member":"T32","date":"2023-01-10T00:00","value":1350},{"member":"T32","date":"2023-01-11T00:00","value":1380},{"member":"T32","date":"2023-01-12T00:00","value":1400},{"member":"T32","date":"2023-01-13T00:00","value":1410},
{"member":"T33","date":"2022-12-28T00:00","value":630},{"member":"T33","date":"2022-12-29T00:00","value":565},{"member":"T33","date":"2022-12-30T00:00","value":538},{"member":"T33","date":"2022-12-31T00:00","value":515},{"member":"T33","date":"2023-01-01T00:00","value":502},{"member":"T33","date":"2023-01-02T00:00","value":585},{"member":"T33","date":"2023-01-03T00:00","value":688},{"member":"T33","date":"2023-01-04T00:00","value":790},{"member":"T33","date":"2023-01-05T00:00","value":885},{"member":"T33","date":"2023-01-06T00:00","value":975},{"member":"T33","date":"2023-01-07T00:00","value":1060},{"member":"T33","date":"2023-01-08T00:00","value":1130},{"member":"T33","date":"2023-01-09T00:00","value":1190},{"member":"T33","date":"2023-01-10T00:00","value":1240},{"member":"T33","date":"2023-01-11T00:00","value":1270},{"member":"T33","date":"2023-01-12T00:00","value":1290},{"member":"T33","date":"2023-01-13T00:00","value":1300},
{"member":"T34","date":"2022-12-28T00:00","value":642},{"member":"T34","date":"2022-12-29T00:00","value":582},{"member":"T34","date":"2022-12-30T00:00","value":562},{"member":"T34","date":"2022-12-31T00:00","value":548},{"member":"T34","date":"2023-01-01T00:00","value":540},{"member":"T34","date":"2023-01-02T00:00","value":632},{"member":"T34","date":"2023-01-03T00:00","value":748},{"member":"T34","date":"2023-01-04T00:00","value":865},{"member":"T34","date":"2023-01-05T00:00","value":980},{"member":"T34","date":"2023-01-06T00:00","value":1090},{"member":"T34","date":"2023-01-07T00:00","value":1200},{"member":"T34","date":"2023-01-08T00:00","value":1300},{"member":"T34","date":"2023-01-09T00:00","value":1380},{"member":"T34","date":"2023-01-10T00:00","value":1440},{"member":"T34","date":"2023-01-11T00:00","value":1490},{"member":"T34","date":"2023-01-12T00:00","value":1530},{"member":"T34","date":"2023-01-13T00:00","value":1560}
],
"w2_ana":[
{"model":"GFS","date":"2022-12-21T00:00","value":426},{"model":"GFS","date":"2022-12-21T12:00","value":423},{"model":"GFS","date":"2022-12-22T00:00","value":384},{"model":"GFS","date":"2022-12-22T12:00","value":343},{"model":"GFS","date":"2022-12-23T00:00","value":286},{"model":"GFS","date":"2022-12-23T12:00","value":232},{"model":"GFS","date":"2022-12-24T00:00","value":137},{"model":"GFS","date":"2022-12-24T12:00","value":66},{"model":"GFS","date":"2022-12-25T00:00","value":39},{"model":"GFS","date":"2022-12-25T12:00","value":102},{"model":"GFS","date":"2022-12-26T00:00","value":136},{"model":"GFS","date":"2022-12-26T12:00","value":134},{"model":"GFS","date":"2022-12-27T00:00","value":131},{"model":"GFS","date":"2022-12-27T12:00","value":103},{"model":"GFS","date":"2022-12-28T00:00","value":88},
{"model":"GEOS-5","date":"2022-12-21T00:00","value":418},{"model":"GEOS-5","date":"2022-12-21T12:00","value":416},{"model":"GEOS-5","date":"2022-12-22T00:00","value":378},{"model":"GEOS-5","date":"2022-12-22T12:00","value":338},{"model":"GEOS-5","date":"2022-12-23T00:00","value":280},{"model":"GEOS-5","date":"2022-12-23T12:00","value":226},{"model":"GEOS-5","date":"2022-12-24T00:00","value":134},{"model":"GEOS-5","date":"2022-12-24T12:00","value":64},{"model":"GEOS-5","date":"2022-12-25T00:00","value":45},{"model":"GEOS-5","date":"2022-12-25T12:00","value":100},{"model":"GEOS-5","date":"2022-12-26T00:00","value":140},{"model":"GEOS-5","date":"2022-12-26T12:00","value":143},{"model":"GEOS-5","date":"2022-12-27T00:00","value":136},{"model":"GEOS-5","date":"2022-12-27T12:00","value":100},{"model":"GEOS-5","date":"2022-12-28T00:00","value":88}
],
"w2_fc":[
{"model":"GFS","date":"2022-12-28T00:00","value":88},{"model":"GFS","date":"2022-12-28T12:00","value":82},{"model":"GFS","date":"2022-12-29T00:00","value":78},{"model":"GFS","date":"2022-12-29T12:00","value":74},{"model":"GFS","date":"2022-12-30T00:00","value":70},{"model":"GFS","date":"2022-12-30T12:00","value":76},{"model":"GFS","date":"2022-12-31T00:00","value":119},{"model":"GFS","date":"2022-12-31T12:00","value":169},{"model":"GFS","date":"2023-01-01T00:00","value":235},{"model":"GFS","date":"2023-01-01T12:00","value":300},{"model":"GFS","date":"2023-01-02T00:00","value":356},{"model":"GFS","date":"2023-01-02T12:00","value":404},{"model":"GFS","date":"2023-01-03T00:00","value":436},{"model":"GFS","date":"2023-01-03T12:00","value":450},{"model":"GFS","date":"2023-01-04T00:00","value":453},{"model":"GFS","date":"2023-01-04T12:00","value":436},{"model":"GFS","date":"2023-01-05T00:00","value":424},{"model":"GFS","date":"2023-01-05T12:00","value":412},{"model":"GFS","date":"2023-01-06T00:00","value":436},{"model":"GFS","date":"2023-01-06T12:00","value":455},{"model":"GFS","date":"2023-01-07T00:00","value":450},{"model":"GFS","date":"2023-01-07T12:00","value":432},{"model":"GFS","date":"2023-01-08T00:00","value":410},{"model":"GFS","date":"2023-01-08T12:00","value":395},{"model":"GFS","date":"2023-01-09T00:00","value":399},{"model":"GFS","date":"2023-01-09T12:00","value":416},{"model":"GFS","date":"2023-01-10T00:00","value":436},{"model":"GFS","date":"2023-01-10T12:00","value":447},{"model":"GFS","date":"2023-01-11T00:00","value":461},{"model":"GFS","date":"2023-01-11T12:00","value":482},{"model":"GFS","date":"2023-01-12T00:00","value":517},{"model":"GFS","date":"2023-01-12T12:00","value":568},{"model":"GFS","date":"2023-01-13T00:00","value":609},
{"model":"GEOS-5","date":"2022-12-28T00:00","value":88},{"model":"GEOS-5","date":"2022-12-28T12:00","value":84},{"model":"GEOS-5","date":"2022-12-29T00:00","value":80},{"model":"GEOS-5","date":"2022-12-29T12:00","value":68},{"model":"GEOS-5","date":"2022-12-30T00:00","value":58},{"model":"GEOS-5","date":"2022-12-30T12:00","value":53},{"model":"GEOS-5","date":"2022-12-31T00:00","value":86},{"model":"GEOS-5","date":"2022-12-31T12:00","value":144},{"model":"GEOS-5","date":"2023-01-01T00:00","value":215},{"model":"GEOS-5","date":"2023-01-01T12:00","value":290},{"model":"GEOS-5","date":"2023-01-02T00:00","value":368},{"model":"GEOS-5","date":"2023-01-02T12:00","value":445},{"model":"GEOS-5","date":"2023-01-03T00:00","value":482},{"model":"GEOS-5","date":"2023-01-03T12:00","value":507},{"model":"GEOS-5","date":"2023-01-04T00:00","value":515},{"model":"GEOS-5","date":"2023-01-04T12:00","value":527},{"model":"GEOS-5","date":"2023-01-05T00:00","value":546},{"model":"GEOS-5","date":"2023-01-05T12:00","value":557},{"model":"GEOS-5","date":"2023-01-06T00:00","value":562},
{"model":"GEFS Ens Avg","date":"2022-12-28T00:00","value":88},{"model":"GEFS Ens Avg","date":"2022-12-28T12:00","value":86},{"model":"GEFS Ens Avg","date":"2022-12-29T00:00","value":80},{"model":"GEFS Ens Avg","date":"2022-12-29T12:00","value":72},{"model":"GEFS Ens Avg","date":"2022-12-30T00:00","value":66},{"model":"GEFS Ens Avg","date":"2022-12-30T12:00","value":70},{"model":"GEFS Ens Avg","date":"2022-12-31T00:00","value":107},{"model":"GEFS Ens Avg","date":"2022-12-31T12:00","value":160},{"model":"GEFS Ens Avg","date":"2023-01-01T00:00","value":230},{"model":"GEFS Ens Avg","date":"2023-01-01T12:00","value":302},{"model":"GEFS Ens Avg","date":"2023-01-02T00:00","value":362},{"model":"GEFS Ens Avg","date":"2023-01-02T12:00","value":414},{"model":"GEFS Ens Avg","date":"2023-01-03T00:00","value":441},{"model":"GEFS Ens Avg","date":"2023-01-03T12:00","value":465},{"model":"GEFS Ens Avg","date":"2023-01-04T00:00","value":473},{"model":"GEFS Ens Avg","date":"2023-01-04T12:00","value":469},{"model":"GEFS Ens Avg","date":"2023-01-05T00:00","value":469},{"model":"GEFS Ens Avg","date":"2023-01-05T12:00","value":482},{"model":"GEFS Ens Avg","date":"2023-01-06T00:00","value":498},{"model":"GEFS Ens Avg","date":"2023-01-06T12:00","value":507},{"model":"GEFS Ens Avg","date":"2023-01-07T00:00","value":490},{"model":"GEFS Ens Avg","date":"2023-01-07T12:00","value":473},{"model":"GEFS Ens Avg","date":"2023-01-08T00:00","value":445},{"model":"GEFS Ens Avg","date":"2023-01-08T12:00","value":432},{"model":"GEFS Ens Avg","date":"2023-01-09T00:00","value":418},{"model":"GEFS Ens Avg","date":"2023-01-09T12:00","value":416},{"model":"GEFS Ens Avg","date":"2023-01-10T00:00","value":403},{"model":"GEFS Ens Avg","date":"2023-01-10T12:00","value":391},{"model":"GEFS Ens Avg","date":"2023-01-11T00:00","value":379},{"model":"GEFS Ens Avg","date":"2023-01-11T12:00","value":383},{"model":"GEFS Ens Avg","date":"2023-01-12T00:00","value":391},{"model":"GEFS Ens Avg","date":"2023-01-12T12:00","value":395},{"model":"GEFS Ens Avg","date":"2023-01-13T00:00","value":397},
{"model":"CMC-GEPS Ens Avg","date":"2022-12-28T00:00","value":90},{"model":"CMC-GEPS Ens Avg","date":"2022-12-28T12:00","value":88},{"model":"CMC-GEPS Ens Avg","date":"2022-12-29T00:00","value":84},{"model":"CMC-GEPS Ens Avg","date":"2022-12-29T12:00","value":78},{"model":"CMC-GEPS Ens Avg","date":"2022-12-30T00:00","value":72},{"model":"CMC-GEPS Ens Avg","date":"2022-12-30T12:00","value":66},{"model":"CMC-GEPS Ens Avg","date":"2022-12-31T00:00","value":95},{"model":"CMC-GEPS Ens Avg","date":"2022-12-31T12:00","value":144},{"model":"CMC-GEPS Ens Avg","date":"2023-01-01T00:00","value":205},{"model":"CMC-GEPS Ens Avg","date":"2023-01-01T12:00","value":272},{"model":"CMC-GEPS Ens Avg","date":"2023-01-02T00:00","value":335},{"model":"CMC-GEPS Ens Avg","date":"2023-01-02T12:00","value":390},{"model":"CMC-GEPS Ens Avg","date":"2023-01-03T00:00","value":434},{"model":"CMC-GEPS Ens Avg","date":"2023-01-03T12:00","value":457},{"model":"CMC-GEPS Ens Avg","date":"2023-01-04T00:00","value":478},{"model":"CMC-GEPS Ens Avg","date":"2023-01-04T12:00","value":482},{"model":"CMC-GEPS Ens Avg","date":"2023-01-05T00:00","value":482},{"model":"CMC-GEPS Ens Avg","date":"2023-01-05T12:00","value":482},{"model":"CMC-GEPS Ens Avg","date":"2023-01-06T00:00","value":481},{"model":"CMC-GEPS Ens Avg","date":"2023-01-06T12:00","value":473},{"model":"CMC-GEPS Ens Avg","date":"2023-01-07T00:00","value":461},{"model":"CMC-GEPS Ens Avg","date":"2023-01-07T12:00","value":424},{"model":"CMC-GEPS Ens Avg","date":"2023-01-08T00:00","value":391},{"model":"CMC-GEPS Ens Avg","date":"2023-01-08T12:00","value":358},{"model":"CMC-GEPS Ens Avg","date":"2023-01-09T00:00","value":338},{"model":"CMC-GEPS Ens Avg","date":"2023-01-09T12:00","value":317},{"model":"CMC-GEPS Ens Avg","date":"2023-01-10T00:00","value":313},{"model":"CMC-GEPS Ens Avg","date":"2023-01-10T12:00","value":305},{"model":"CMC-GEPS Ens Avg","date":"2023-01-11T00:00","value":296},{"model":"CMC-GEPS Ens Avg","date":"2023-01-11T12:00","value":286},{"model":"CMC-GEPS Ens Avg","date":"2023-01-12T00:00","value":286},{"model":"CMC-GEPS Ens Avg","date":"2023-01-12T12:00","value":286},{"model":"CMC-GEPS Ens Avg","date":"2023-01-13T00:00","value":294},
{"model":"FNMOC-EFS Ens Avg","date":"2022-12-28T00:00","value":97},{"model":"FNMOC-EFS Ens Avg","date":"2022-12-28T12:00","value":99},{"model":"FNMOC-EFS Ens Avg","date":"2022-12-29T00:00","value":96},{"model":"FNMOC-EFS Ens Avg","date":"2022-12-29T12:00","value":90},{"model":"FNMOC-EFS Ens Avg","date":"2022-12-30T00:00","value":78},{"model":"FNMOC-EFS Ens Avg","date":"2022-12-30T12:00","value":66},{"model":"FNMOC-EFS Ens Avg","date":"2022-12-31T00:00","value":70},{"model":"FNMOC-EFS Ens Avg","date":"2022-12-31T12:00","value":111},{"model":"FNMOC-EFS Ens Avg","date":"2023-01-01T00:00","value":169},{"model":"FNMOC-EFS Ens Avg","date":"2023-01-01T12:00","value":238},{"model":"FNMOC-EFS Ens Avg","date":"2023-01-02T00:00","value":296},{"model":"FNMOC-EFS Ens Avg","date":"2023-01-02T12:00","value":350},{"model":"FNMOC-EFS Ens Avg","date":"2023-01-03T00:00","value":391},{"model":"FNMOC-EFS Ens Avg","date":"2023-01-03T12:00","value":424},{"model":"FNMOC-EFS Ens Avg","date":"2023-01-04T00:00","value":453},{"model":"FNMOC-EFS Ens Avg","date":"2023-01-04T12:00","value":478},{"model":"FNMOC-EFS Ens Avg","date":"2023-01-05T00:00","value":507},{"model":"FNMOC-EFS Ens Avg","date":"2023-01-05T12:00","value":523},{"model":"FNMOC-EFS Ens Avg","date":"2023-01-06T00:00","value":530},{"model":"FNMOC-EFS Ens Avg","date":"2023-01-06T12:00","value":523},{"model":"FNMOC-EFS Ens Avg","date":"2023-01-07T00:00","value":515},{"model":"FNMOC-EFS Ens Avg","date":"2023-01-07T12:00","value":498},{"model":"FNMOC-EFS Ens Avg","date":"2023-01-08T00:00","value":473},{"model":"FNMOC-EFS Ens Avg","date":"2023-01-08T12:00","value":445},{"model":"FNMOC-EFS Ens Avg","date":"2023-01-09T00:00","value":416},{"model":"FNMOC-EFS Ens Avg","date":"2023-01-09T12:00","value":391},{"model":"FNMOC-EFS Ens Avg","date":"2023-01-10T00:00","value":371},{"model":"FNMOC-EFS Ens Avg","date":"2023-01-10T12:00","value":358},{"model":"FNMOC-EFS Ens Avg","date":"2023-01-11T00:00","value":350},{"model":"FNMOC-EFS Ens Avg","date":"2023-01-11T12:00","value":334},{"model":"FNMOC-EFS Ens Avg","date":"2023-01-12T00:00","value":321},{"model":"FNMOC-EFS Ens Avg","date":"2023-01-12T12:00","value":305},{"model":"FNMOC-EFS Ens Avg","date":"2023-01-13T00:00","value":294}
],
"w2_ens":[
{"member":"B1","date":"2022-12-28T00:00","value":95},{"member":"B1","date":"2022-12-29T00:00","value":105},{"member":"B1","date":"2022-12-30T00:00","value":80},{"member":"B1","date":"2022-12-31T00:00","value":120},{"member":"B1","date":"2023-01-01T00:00","value":230},{"member":"B1","date":"2023-01-02T00:00","value":360},{"member":"B1","date":"2023-01-03T00:00","value":450},{"member":"B1","date":"2023-01-04T00:00","value":520},{"member":"B1","date":"2023-01-05T00:00","value":600},{"member":"B1","date":"2023-01-06T00:00","value":640},{"member":"B1","date":"2023-01-07T00:00","value":684},{"member":"B1","date":"2023-01-08T00:00","value":684},{"member":"B1","date":"2023-01-09T00:00","value":634},{"member":"B1","date":"2023-01-10T00:00","value":640},{"member":"B1","date":"2023-01-11T00:00","value":645},{"member":"B1","date":"2023-01-12T00:00","value":648},{"member":"B1","date":"2023-01-13T00:00","value":650},
{"member":"B2","date":"2022-12-28T00:00","value":90},{"member":"B2","date":"2022-12-29T00:00","value":85},{"member":"B2","date":"2022-12-30T00:00","value":55},{"member":"B2","date":"2022-12-31T00:00","value":80},{"member":"B2","date":"2023-01-01T00:00","value":190},{"member":"B2","date":"2023-01-02T00:00","value":330},{"member":"B2","date":"2023-01-03T00:00","value":430},{"member":"B2","date":"2023-01-04T00:00","value":480},{"member":"B2","date":"2023-01-05T00:00","value":480},{"member":"B2","date":"2023-01-06T00:00","value":470},{"member":"B2","date":"2023-01-07T00:00","value":440},{"member":"B2","date":"2023-01-08T00:00","value":390},{"member":"B2","date":"2023-01-09T00:00","value":330},{"member":"B2","date":"2023-01-10T00:00","value":280},{"member":"B2","date":"2023-01-11T00:00","value":230},{"member":"B2","date":"2023-01-12T00:00","value":180},{"member":"B2","date":"2023-01-13T00:00","value":150},
{"member":"B3","date":"2022-12-28T00:00","value":100},{"member":"B3","date":"2022-12-29T00:00","value":110},{"member":"B3","date":"2022-12-30T00:00","value":85},{"member":"B3","date":"2022-12-31T00:00","value":140},{"member":"B3","date":"2023-01-01T00:00","value":260},{"member":"B3","date":"2023-01-02T00:00","value":400},{"member":"B3","date":"2023-01-03T00:00","value":490},{"member":"B3","date":"2023-01-04T00:00","value":530},{"member":"B3","date":"2023-01-05T00:00","value":540},{"member":"B3","date":"2023-01-06T00:00","value":530},{"member":"B3","date":"2023-01-07T00:00","value":500},{"member":"B3","date":"2023-01-08T00:00","value":450},{"member":"B3","date":"2023-01-09T00:00","value":400},{"member":"B3","date":"2023-01-10T00:00","value":360},{"member":"B3","date":"2023-01-11T00:00","value":330},{"member":"B3","date":"2023-01-12T00:00","value":300},{"member":"B3","date":"2023-01-13T00:00","value":280},
{"member":"B4","date":"2022-12-28T00:00","value":85},{"member":"B4","date":"2022-12-29T00:00","value":80},{"member":"B4","date":"2022-12-30T00:00","value":45},{"member":"B4","date":"2022-12-31T00:00","value":60},{"member":"B4","date":"2023-01-01T00:00","value":150},{"member":"B4","date":"2023-01-02T00:00","value":290},{"member":"B4","date":"2023-01-03T00:00","value":400},{"member":"B4","date":"2023-01-04T00:00","value":450},{"member":"B4","date":"2023-01-05T00:00","value":470},{"member":"B4","date":"2023-01-06T00:00","value":480},{"member":"B4","date":"2023-01-07T00:00","value":470},{"member":"B4","date":"2023-01-08T00:00","value":440},{"member":"B4","date":"2023-01-09T00:00","value":400},{"member":"B4","date":"2023-01-10T00:00","value":370},{"member":"B4","date":"2023-01-11T00:00","value":350},{"member":"B4","date":"2023-01-12T00:00","value":330},{"member":"B4","date":"2023-01-13T00:00","value":320},
{"member":"B5","date":"2022-12-28T00:00","value":95},{"member":"B5","date":"2022-12-29T00:00","value":90},{"member":"B5","date":"2022-12-30T00:00","value":65},{"member":"B5","date":"2022-12-31T00:00","value":110},{"member":"B5","date":"2023-01-01T00:00","value":220},{"member":"B5","date":"2023-01-02T00:00","value":360},{"member":"B5","date":"2023-01-03T00:00","value":460},{"member":"B5","date":"2023-01-04T00:00","value":500},{"member":"B5","date":"2023-01-05T00:00","value":510},{"member":"B5","date":"2023-01-06T00:00","value":520},{"member":"B5","date":"2023-01-07T00:00","value":520},{"member":"B5","date":"2023-01-08T00:00","value":500},{"member":"B5","date":"2023-01-09T00:00","value":470},{"member":"B5","date":"2023-01-10T00:00","value":440},{"member":"B5","date":"2023-01-11T00:00","value":420},{"member":"B5","date":"2023-01-12T00:00","value":400},{"member":"B5","date":"2023-01-13T00:00","value":390},
{"member":"B6","date":"2022-12-28T00:00","value":80},{"member":"B6","date":"2022-12-29T00:00","value":72},{"member":"B6","date":"2022-12-30T00:00","value":25},{"member":"B6","date":"2022-12-31T00:00","value":40},{"member":"B6","date":"2023-01-01T00:00","value":120},{"member":"B6","date":"2023-01-02T00:00","value":250},{"member":"B6","date":"2023-01-03T00:00","value":360},{"member":"B6","date":"2023-01-04T00:00","value":410},{"member":"B6","date":"2023-01-05T00:00","value":420},{"member":"B6","date":"2023-01-06T00:00","value":410},{"member":"B6","date":"2023-01-07T00:00","value":380},{"member":"B6","date":"2023-01-08T00:00","value":330},{"member":"B6","date":"2023-01-09T00:00","value":270},{"member":"B6","date":"2023-01-10T00:00","value":210},{"member":"B6","date":"2023-01-11T00:00","value":150},{"member":"B6","date":"2023-01-12T00:00","value":90},{"member":"B6","date":"2023-01-13T00:00","value":60},
{"member":"B7","date":"2022-12-28T00:00","value":105},{"member":"B7","date":"2022-12-29T00:00","value":115},{"member":"B7","date":"2022-12-30T00:00","value":90},{"member":"B7","date":"2022-12-31T00:00","value":150},{"member":"B7","date":"2023-01-01T00:00","value":270},{"member":"B7","date":"2023-01-02T00:00","value":410},{"member":"B7","date":"2023-01-03T00:00","value":500},{"member":"B7","date":"2023-01-04T00:00","value":550},{"member":"B7","date":"2023-01-05T00:00","value":570},{"member":"B7","date":"2023-01-06T00:00","value":590},{"member":"B7","date":"2023-01-07T00:00","value":600},{"member":"B7","date":"2023-01-08T00:00","value":590},{"member":"B7","date":"2023-01-09T00:00","value":570},{"member":"B7","date":"2023-01-10T00:00","value":550},{"member":"B7","date":"2023-01-11T00:00","value":530},{"member":"B7","date":"2023-01-12T00:00","value":510},{"member":"B7","date":"2023-01-13T00:00","value":490},
{"member":"B8","date":"2022-12-28T00:00","value":90},{"member":"B8","date":"2022-12-29T00:00","value":85},{"member":"B8","date":"2022-12-30T00:00","value":55},{"member":"B8","date":"2022-12-31T00:00","value":95},{"member":"B8","date":"2023-01-01T00:00","value":210},{"member":"B8","date":"2023-01-02T00:00","value":350},{"member":"B8","date":"2023-01-03T00:00","value":450},{"member":"B8","date":"2023-01-04T00:00","value":490},{"member":"B8","date":"2023-01-05T00:00","value":490},{"member":"B8","date":"2023-01-06T00:00","value":480},{"member":"B8","date":"2023-01-07T00:00","value":450},{"member":"B8","date":"2023-01-08T00:00","value":410},{"member":"B8","date":"2023-01-09T00:00","value":370},{"member":"B8","date":"2023-01-10T00:00","value":330},{"member":"B8","date":"2023-01-11T00:00","value":300},{"member":"B8","date":"2023-01-12T00:00","value":280},{"member":"B8","date":"2023-01-13T00:00","value":260},
{"member":"B9","date":"2022-12-28T00:00","value":85},{"member":"B9","date":"2022-12-29T00:00","value":75},{"member":"B9","date":"2022-12-30T00:00","value":35},{"member":"B9","date":"2022-12-31T00:00","value":50},{"member":"B9","date":"2023-01-01T00:00","value":140},{"member":"B9","date":"2023-01-02T00:00","value":280},{"member":"B9","date":"2023-01-03T00:00","value":380},{"member":"B9","date":"2023-01-04T00:00","value":420},{"member":"B9","date":"2023-01-05T00:00","value":430},{"member":"B9","date":"2023-01-06T00:00","value":440},{"member":"B9","date":"2023-01-07T00:00","value":430},{"member":"B9","date":"2023-01-08T00:00","value":400},{"member":"B9","date":"2023-01-09T00:00","value":350},{"member":"B9","date":"2023-01-10T00:00","value":300},{"member":"B9","date":"2023-01-11T00:00","value":250},{"member":"B9","date":"2023-01-12T00:00","value":200},{"member":"B9","date":"2023-01-13T00:00","value":170},
{"member":"B10","date":"2022-12-28T00:00","value":100},{"member":"B10","date":"2022-12-29T00:00","value":100},{"member":"B10","date":"2022-12-30T00:00","value":80},{"member":"B10","date":"2022-12-31T00:00","value":125},{"member":"B10","date":"2023-01-01T00:00","value":245},{"member":"B10","date":"2023-01-02T00:00","value":385},{"member":"B10","date":"2023-01-03T00:00","value":470},{"member":"B10","date":"2023-01-04T00:00","value":510},{"member":"B10","date":"2023-01-05T00:00","value":520},{"member":"B10","date":"2023-01-06T00:00","value":530},{"member":"B10","date":"2023-01-07T00:00","value":510},{"member":"B10","date":"2023-01-08T00:00","value":470},{"member":"B10","date":"2023-01-09T00:00","value":420},{"member":"B10","date":"2023-01-10T00:00","value":380},{"member":"B10","date":"2023-01-11T00:00","value":350},{"member":"B10","date":"2023-01-12T00:00","value":330},{"member":"B10","date":"2023-01-13T00:00","value":310},
{"member":"B11","date":"2022-12-28T00:00","value":90},{"member":"B11","date":"2022-12-29T00:00","value":90},{"member":"B11","date":"2022-12-30T00:00","value":60},{"member":"B11","date":"2022-12-31T00:00","value":90},{"member":"B11","date":"2023-01-01T00:00","value":200},{"member":"B11","date":"2023-01-02T00:00","value":340},{"member":"B11","date":"2023-01-03T00:00","value":440},{"member":"B11","date":"2023-01-04T00:00","value":470},{"member":"B11","date":"2023-01-05T00:00","value":460},{"member":"B11","date":"2023-01-06T00:00","value":440},{"member":"B11","date":"2023-01-07T00:00","value":400},{"member":"B11","date":"2023-01-08T00:00","value":350},{"member":"B11","date":"2023-01-09T00:00","value":300},{"member":"B11","date":"2023-01-10T00:00","value":260},{"member":"B11","date":"2023-01-11T00:00","value":220},{"member":"B11","date":"2023-01-12T00:00","value":190},{"member":"B11","date":"2023-01-13T00:00","value":170},
{"member":"B12","date":"2022-12-28T00:00","value":95},{"member":"B12","date":"2022-12-29T00:00","value":95},{"member":"B12","date":"2022-12-30T00:00","value":70},{"member":"B12","date":"2022-12-31T00:00","value":115},{"member":"B12","date":"2023-01-01T00:00","value":235},{"member":"B12","date":"2023-01-02T00:00","value":375},{"member":"B12","date":"2023-01-03T00:00","value":470},{"member":"B12","date":"2023-01-04T00:00","value":520},{"member":"B12","date":"2023-01-05T00:00","value":560},{"member":"B12","date":"2023-01-06T00:00","value":600},{"member":"B12","date":"2023-01-07T00:00","value":630},{"member":"B12","date":"2023-01-08T00:00","value":640},{"member":"B12","date":"2023-01-09T00:00","value":620},{"member":"B12","date":"2023-01-10T00:00","value":590},{"member":"B12","date":"2023-01-11T00:00","value":560},{"member":"B12","date":"2023-01-12T00:00","value":530},{"member":"B12","date":"2023-01-13T00:00","value":500},
{"member":"B13","date":"2022-12-28T00:00","value":78},{"member":"B13","date":"2022-12-29T00:00","value":68},{"member":"B13","date":"2022-12-30T00:00","value":15},{"member":"B13","date":"2022-12-31T00:00","value":30},{"member":"B13","date":"2023-01-01T00:00","value":90},{"member":"B13","date":"2023-01-02T00:00","value":200},{"member":"B13","date":"2023-01-03T00:00","value":340},{"member":"B13","date":"2023-01-04T00:00","value":400},{"member":"B13","date":"2023-01-05T00:00","value":410},{"member":"B13","date":"2023-01-06T00:00","value":410},{"member":"B13","date":"2023-01-07T00:00","value":380},{"member":"B13","date":"2023-01-08T00:00","value":320},{"member":"B13","date":"2023-01-09T00:00","value":250},{"member":"B13","date":"2023-01-10T00:00","value":170},{"member":"B13","date":"2023-01-11T00:00","value":110},{"member":"B13","date":"2023-01-12T00:00","value":30},{"member":"B13","date":"2023-01-13T00:00","value":90},
{"member":"B14","date":"2022-12-28T00:00","value":100},{"member":"B14","date":"2022-12-29T00:00","value":108},{"member":"B14","date":"2022-12-30T00:00","value":85},{"member":"B14","date":"2022-12-31T00:00","value":140},{"member":"B14","date":"2023-01-01T00:00","value":255},{"member":"B14","date":"2023-01-02T00:00","value":385},{"member":"B14","date":"2023-01-03T00:00","value":460},{"member":"B14","date":"2023-01-04T00:00","value":490},{"member":"B14","date":"2023-01-05T00:00","value":490},{"member":"B14","date":"2023-01-06T00:00","value":490},{"member":"B14","date":"2023-01-07T00:00","value":480},{"member":"B14","date":"2023-01-08T00:00","value":460},{"member":"B14","date":"2023-01-09T00:00","value":440},{"member":"B14","date":"2023-01-10T00:00","value":420},{"member":"B14","date":"2023-01-11T00:00","value":400},{"member":"B14","date":"2023-01-12T00:00","value":390},{"member":"B14","date":"2023-01-13T00:00","value":380},
{"member":"B15","date":"2022-12-28T00:00","value":85},{"member":"B15","date":"2022-12-29T00:00","value":80},{"member":"B15","date":"2022-12-30T00:00","value":45},{"member":"B15","date":"2022-12-31T00:00","value":75},{"member":"B15","date":"2023-01-01T00:00","value":180},{"member":"B15","date":"2023-01-02T00:00","value":320},{"member":"B15","date":"2023-01-03T00:00","value":430},{"member":"B15","date":"2023-01-04T00:00","value":480},{"member":"B15","date":"2023-01-05T00:00","value":500},{"member":"B15","date":"2023-01-06T00:00","value":510},{"member":"B15","date":"2023-01-07T00:00","value":500},{"member":"B15","date":"2023-01-08T00:00","value":470},{"member":"B15","date":"2023-01-09T00:00","value":430},{"member":"B15","date":"2023-01-10T00:00","value":400},{"member":"B15","date":"2023-01-11T00:00","value":380},{"member":"B15","date":"2023-01-12T00:00","value":360},{"member":"B15","date":"2023-01-13T00:00","value":350},
{"member":"B16","date":"2022-12-28T00:00","value":95},{"member":"B16","date":"2022-12-29T00:00","value":95},{"member":"B16","date":"2022-12-30T00:00","value":75},{"member":"B16","date":"2022-12-31T00:00","value":110},{"member":"B16","date":"2023-01-01T00:00","value":225},{"member":"B16","date":"2023-01-02T00:00","value":365},{"member":"B16","date":"2023-01-03T00:00","value":455},{"member":"B16","date":"2023-01-04T00:00","value":490},{"member":"B16","date":"2023-01-05T00:00","value":480},{"member":"B16","date":"2023-01-06T00:00","value":460},{"member":"B16","date":"2023-01-07T00:00","value":430},{"member":"B16","date":"2023-01-08T00:00","value":400},{"member":"B16","date":"2023-01-09T00:00","value":380},{"member":"B16","date":"2023-01-10T00:00","value":370},{"member":"B16","date":"2023-01-11T00:00","value":360},{"member":"B16","date":"2023-01-12T00:00","value":350},{"member":"B16","date":"2023-01-13T00:00","value":340},
{"member":"B17","date":"2022-12-28T00:00","value":90},{"member":"B17","date":"2022-12-29T00:00","value":85},{"member":"B17","date":"2022-12-30T00:00","value":50},{"member":"B17","date":"2022-12-31T00:00","value":80},{"member":"B17","date":"2023-01-01T00:00","value":185},{"member":"B17","date":"2023-01-02T00:00","value":325},{"member":"B17","date":"2023-01-03T00:00","value":430},{"member":"B17","date":"2023-01-04T00:00","value":470},{"member":"B17","date":"2023-01-05T00:00","value":470},{"member":"B17","date":"2023-01-06T00:00","value":460},{"member":"B17","date":"2023-01-07T00:00","value":420},{"member":"B17","date":"2023-01-08T00:00","value":360},{"member":"B17","date":"2023-01-09T00:00","value":290},{"member":"B17","date":"2023-01-10T00:00","value":220},{"member":"B17","date":"2023-01-11T00:00","value":160},{"member":"B17","date":"2023-01-12T00:00","value":110},{"member":"B17","date":"2023-01-13T00:00","value":100},
{"member":"B18","date":"2022-12-28T00:00","value":105},{"member":"B18","date":"2022-12-29T00:00","value":105},{"member":"B18","date":"2022-12-30T00:00","value":85},{"member":"B18","date":"2022-12-31T00:00","value":130},{"member":"B18","date":"2023-01-01T00:00","value":250},{"member":"B18","date":"2023-01-02T00:00","value":390},{"member":"B18","date":"2023-01-03T00:00","value":480},{"member":"B18","date":"2023-01-04T00:00","value":520},{"member":"B18","date":"2023-01-05T00:00","value":530},{"member":"B18","date":"2023-01-06T00:00","value":520},{"member":"B18","date":"2023-01-07T00:00","value":490},{"member":"B18","date":"2023-01-08T00:00","value":440},{"member":"B18","date":"2023-01-09T00:00","value":390},{"member":"B18","date":"2023-01-10T00:00","value":350},{"member":"B18","date":"2023-01-11T00:00","value":320},{"member":"B18","date":"2023-01-12T00:00","value":300},{"member":"B18","date":"2023-01-13T00:00","value":290},
{"member":"B19","date":"2022-12-28T00:00","value":85},{"member":"B19","date":"2022-12-29T00:00","value":80},{"member":"B19","date":"2022-12-30T00:00","value":40},{"member":"B19","date":"2022-12-31T00:00","value":60},{"member":"B19","date":"2023-01-01T00:00","value":160},{"member":"B19","date":"2023-01-02T00:00","value":300},{"member":"B19","date":"2023-01-03T00:00","value":410},{"member":"B19","date":"2023-01-04T00:00","value":460},{"member":"B19","date":"2023-01-05T00:00","value":480},{"member":"B19","date":"2023-01-06T00:00","value":490},{"member":"B19","date":"2023-01-07T00:00","value":470},{"member":"B19","date":"2023-01-08T00:00","value":430},{"member":"B19","date":"2023-01-09T00:00","value":360},{"member":"B19","date":"2023-01-10T00:00","value":290},{"member":"B19","date":"2023-01-11T00:00","value":230},{"member":"B19","date":"2023-01-12T00:00","value":170},{"member":"B19","date":"2023-01-13T00:00","value":130},
{"member":"B20","date":"2022-12-28T00:00","value":95},{"member":"B20","date":"2022-12-29T00:00","value":95},{"member":"B20","date":"2022-12-30T00:00","value":70},{"member":"B20","date":"2022-12-31T00:00","value":105},{"member":"B20","date":"2023-01-01T00:00","value":215},{"member":"B20","date":"2023-01-02T00:00","value":355},{"member":"B20","date":"2023-01-03T00:00","value":455},{"member":"B20","date":"2023-01-04T00:00","value":500},{"member":"B20","date":"2023-01-05T00:00","value":520},{"member":"B20","date":"2023-01-06T00:00","value":540},{"member":"B20","date":"2023-01-07T00:00","value":550},{"member":"B20","date":"2023-01-08T00:00","value":540},{"member":"B20","date":"2023-01-09T00:00","value":520},{"member":"B20","date":"2023-01-10T00:00","value":500},{"member":"B20","date":"2023-01-11T00:00","value":480},{"member":"B20","date":"2023-01-12T00:00","value":470},{"member":"B20","date":"2023-01-13T00:00","value":460},
{"member":"B21","date":"2022-12-28T00:00","value":90},{"member":"B21","date":"2022-12-29T00:00","value":90},{"member":"B21","date":"2022-12-30T00:00","value":65},{"member":"B21","date":"2022-12-31T00:00","value":100},{"member":"B21","date":"2023-01-01T00:00","value":210},{"member":"B21","date":"2023-01-02T00:00","value":345},{"member":"B21","date":"2023-01-03T00:00","value":445},{"member":"B21","date":"2023-01-04T00:00","value":480},{"member":"B21","date":"2023-01-05T00:00","value":470},{"member":"B21","date":"2023-01-06T00:00","value":450},{"member":"B21","date":"2023-01-07T00:00","value":410},{"member":"B21","date":"2023-01-08T00:00","value":370},{"member":"B21","date":"2023-01-09T00:00","value":330},{"member":"B21","date":"2023-01-10T00:00","value":300},{"member":"B21","date":"2023-01-11T00:00","value":270},{"member":"B21","date":"2023-01-12T00:00","value":250},{"member":"B21","date":"2023-01-13T00:00","value":240},
{"member":"B22","date":"2022-12-28T00:00","value":80},{"member":"B22","date":"2022-12-29T00:00","value":75},{"member":"B22","date":"2022-12-30T00:00","value":40},{"member":"B22","date":"2022-12-31T00:00","value":55},{"member":"B22","date":"2023-01-01T00:00","value":130},{"member":"B22","date":"2023-01-02T00:00","value":250},{"member":"B22","date":"2023-01-03T00:00","value":350},{"member":"B22","date":"2023-01-04T00:00","value":400},{"member":"B22","date":"2023-01-05T00:00","value":400},{"member":"B22","date":"2023-01-06T00:00","value":390},{"member":"B22","date":"2023-01-07T00:00","value":360},{"member":"B22","date":"2023-01-08T00:00","value":300},{"member":"B22","date":"2023-01-09T00:00","value":240},{"member":"B22","date":"2023-01-10T00:00","value":180},{"member":"B22","date":"2023-01-11T00:00","value":140},{"member":"B22","date":"2023-01-12T00:00","value":120},{"member":"B22","date":"2023-01-13T00:00","value":120},
{"member":"B23","date":"2022-12-28T00:00","value":95},{"member":"B23","date":"2022-12-29T00:00","value":100},{"member":"B23","date":"2022-12-30T00:00","value":75},{"member":"B23","date":"2022-12-31T00:00","value":115},{"member":"B23","date":"2023-01-01T00:00","value":235},{"member":"B23","date":"2023-01-02T00:00","value":370},{"member":"B23","date":"2023-01-03T00:00","value":470},{"member":"B23","date":"2023-01-04T00:00","value":510},{"member":"B23","date":"2023-01-05T00:00","value":520},{"member":"B23","date":"2023-01-06T00:00","value":520},{"member":"B23","date":"2023-01-07T00:00","value":510},{"member":"B23","date":"2023-01-08T00:00","value":490},{"member":"B23","date":"2023-01-09T00:00","value":460},{"member":"B23","date":"2023-01-10T00:00","value":430},{"member":"B23","date":"2023-01-11T00:00","value":400},{"member":"B23","date":"2023-01-12T00:00","value":370},{"member":"B23","date":"2023-01-13T00:00","value":350},
{"member":"B24","date":"2022-12-28T00:00","value":100},{"member":"B24","date":"2022-12-29T00:00","value":95},{"member":"B24","date":"2022-12-30T00:00","value":70},{"member":"B24","date":"2022-12-31T00:00","value":105},{"member":"B24","date":"2023-01-01T00:00","value":215},{"member":"B24","date":"2023-01-02T00:00","value":350},{"member":"B24","date":"2023-01-03T00:00","value":445},{"member":"B24","date":"2023-01-04T00:00","value":480},{"member":"B24","date":"2023-01-05T00:00","value":480},{"member":"B24","date":"2023-01-06T00:00","value":470},{"member":"B24","date":"2023-01-07T00:00","value":440},{"member":"B24","date":"2023-01-08T00:00","value":400},{"member":"B24","date":"2023-01-09T00:00","value":350},{"member":"B24","date":"2023-01-10T00:00","value":300},{"member":"B24","date":"2023-01-11T00:00","value":260},{"member":"B24","date":"2023-01-12T00:00","value":220},{"member":"B24","date":"2023-01-13T00:00","value":200},
{"member":"B25","date":"2022-12-28T00:00","value":90},{"member":"B25","date":"2022-12-29T00:00","value":85},{"member":"B25","date":"2022-12-30T00:00","value":60},{"member":"B25","date":"2022-12-31T00:00","value":90},{"member":"B25","date":"2023-01-01T00:00","value":205},{"member":"B25","date":"2023-01-02T00:00","value":345},{"member":"B25","date":"2023-01-03T00:00","value":440},{"member":"B25","date":"2023-01-04T00:00","value":480},{"member":"B25","date":"2023-01-05T00:00","value":490},{"member":"B25","date":"2023-01-06T00:00","value":490},{"member":"B25","date":"2023-01-07T00:00","value":470},{"member":"B25","date":"2023-01-08T00:00","value":440},{"member":"B25","date":"2023-01-09T00:00","value":400},{"member":"B25","date":"2023-01-10T00:00","value":360},{"member":"B25","date":"2023-01-11T00:00","value":330},{"member":"B25","date":"2023-01-12T00:00","value":300},{"member":"B25","date":"2023-01-13T00:00","value":270},
{"member":"B26","date":"2022-12-28T00:00","value":100},{"member":"B26","date":"2022-12-29T00:00","value":100},{"member":"B26","date":"2022-12-30T00:00","value":88},{"member":"B26","date":"2022-12-31T00:00","value":130},{"member":"B26","date":"2023-01-01T00:00","value":250},{"member":"B26","date":"2023-01-02T00:00","value":380},{"member":"B26","date":"2023-01-03T00:00","value":450},{"member":"B26","date":"2023-01-04T00:00","value":470},{"member":"B26","date":"2023-01-05T00:00","value":460},{"member":"B26","date":"2023-01-06T00:00","value":450},{"member":"B26","date":"2023-01-07T00:00","value":440},{"member":"B26","date":"2023-01-08T00:00","value":430},{"member":"B26","date":"2023-01-09T00:00","value":420},{"member":"B26","date":"2023-01-10T00:00","value":410},{"member":"B26","date":"2023-01-11T00:00","value":400},{"member":"B26","date":"2023-01-12T00:00","value":390},{"member":"B26","date":"2023-01-13T00:00","value":380},
{"member":"B27","date":"2022-12-28T00:00","value":85},{"member":"B27","date":"2022-12-29T00:00","value":80},{"member":"B27","date":"2022-12-30T00:00","value":50},{"member":"B27","date":"2022-12-31T00:00","value":75},{"member":"B27","date":"2023-01-01T00:00","value":180},{"member":"B27","date":"2023-01-02T00:00","value":320},{"member":"B27","date":"2023-01-03T00:00","value":420},{"member":"B27","date":"2023-01-04T00:00","value":470},{"member":"B27","date":"2023-01-05T00:00","value":490},{"member":"B27","date":"2023-01-06T00:00","value":500},{"member":"B27","date":"2023-01-07T00:00","value":490},{"member":"B27","date":"2023-01-08T00:00","value":460},{"member":"B27","date":"2023-01-09T00:00","value":420},{"member":"B27","date":"2023-01-10T00:00","value":380},{"member":"B27","date":"2023-01-11T00:00","value":340},{"member":"B27","date":"2023-01-12T00:00","value":300},{"member":"B27","date":"2023-01-13T00:00","value":260},
{"member":"B28","date":"2022-12-28T00:00","value":95},{"member":"B28","date":"2022-12-29T00:00","value":90},{"member":"B28","date":"2022-12-30T00:00","value":68},{"member":"B28","date":"2022-12-31T00:00","value":105},{"member":"B28","date":"2023-01-01T00:00","value":215},{"member":"B28","date":"2023-01-02T00:00","value":350},{"member":"B28","date":"2023-01-03T00:00","value":440},{"member":"B28","date":"2023-01-04T00:00","value":480},{"member":"B28","date":"2023-01-05T00:00","value":490},{"member":"B28","date":"2023-01-06T00:00","value":500},{"member":"B28","date":"2023-01-07T00:00","value":500},{"member":"B28","date":"2023-01-08T00:00","value":480},{"member":"B28","date":"2023-01-09T00:00","value":450},{"member":"B28","date":"2023-01-10T00:00","value":420},{"member":"B28","date":"2023-01-11T00:00","value":400},{"member":"B28","date":"2023-01-12T00:00","value":380},{"member":"B28","date":"2023-01-13T00:00","value":360},
{"member":"B29","date":"2022-12-28T00:00","value":90},{"member":"B29","date":"2022-12-29T00:00","value":90},{"member":"B29","date":"2022-12-30T00:00","value":62},{"member":"B29","date":"2022-12-31T00:00","value":100},{"member":"B29","date":"2023-01-01T00:00","value":215},{"member":"B29","date":"2023-01-02T00:00","value":355},{"member":"B29","date":"2023-01-03T00:00","value":450},{"member":"B29","date":"2023-01-04T00:00","value":500},{"member":"B29","date":"2023-01-05T00:00","value":530},{"member":"B29","date":"2023-01-06T00:00","value":560},{"member":"B29","date":"2023-01-07T00:00","value":570},{"member":"B29","date":"2023-01-08T00:00","value":550},{"member":"B29","date":"2023-01-09T00:00","value":510},{"member":"B29","date":"2023-01-10T00:00","value":460},{"member":"B29","date":"2023-01-11T00:00","value":420},{"member":"B29","date":"2023-01-12T00:00","value":380},{"member":"B29","date":"2023-01-13T00:00","value":340},
{"member":"B30","date":"2022-12-28T00:00","value":100},{"member":"B30","date":"2022-12-29T00:00","value":98},{"member":"B30","date":"2022-12-30T00:00","value":78},{"member":"B30","date":"2022-12-31T00:00","value":118},{"member":"B30","date":"2023-01-01T00:00","value":240},{"member":"B30","date":"2023-01-02T00:00","value":380},{"member":"B30","date":"2023-01-03T00:00","value":470},{"member":"B30","date":"2023-01-04T00:00","value":500},{"member":"B30","date":"2023-01-05T00:00","value":500},{"member":"B30","date":"2023-01-06T00:00","value":500},{"member":"B30","date":"2023-01-07T00:00","value":520},{"member":"B30","date":"2023-01-08T00:00","value":540},{"member":"B30","date":"2023-01-09T00:00","value":560},{"member":"B30","date":"2023-01-10T00:00","value":580},{"member":"B30","date":"2023-01-11T00:00","value":600},{"member":"B30","date":"2023-01-12T00:00","value":620},{"member":"B30","date":"2023-01-13T00:00","value":640},
{"member":"B31","date":"2022-12-28T00:00","value":88},{"member":"B31","date":"2022-12-29T00:00","value":82},{"member":"B31","date":"2022-12-30T00:00","value":52},{"member":"B31","date":"2022-12-31T00:00","value":78},{"member":"B31","date":"2023-01-01T00:00","value":175},{"member":"B31","date":"2023-01-02T00:00","value":310},{"member":"B31","date":"2023-01-03T00:00","value":410},{"member":"B31","date":"2023-01-04T00:00","value":450},{"member":"B31","date":"2023-01-05T00:00","value":440},{"member":"B31","date":"2023-01-06T00:00","value":420},{"member":"B31","date":"2023-01-07T00:00","value":380},{"member":"B31","date":"2023-01-08T00:00","value":320},{"member":"B31","date":"2023-01-09T00:00","value":260},{"member":"B31","date":"2023-01-10T00:00","value":200},{"member":"B31","date":"2023-01-11T00:00","value":160},{"member":"B31","date":"2023-01-12T00:00","value":140},{"member":"B31","date":"2023-01-13T00:00","value":150},
{"member":"B32","date":"2022-12-28T00:00","value":92},{"member":"B32","date":"2022-12-29T00:00","value":88},{"member":"B32","date":"2022-12-30T00:00","value":60},{"member":"B32","date":"2022-12-31T00:00","value":95},{"member":"B32","date":"2023-01-01T00:00","value":200},{"member":"B32","date":"2023-01-02T00:00","value":340},{"member":"B32","date":"2023-01-03T00:00","value":435},{"member":"B32","date":"2023-01-04T00:00","value":475},{"member":"B32","date":"2023-01-05T00:00","value":485},{"member":"B32","date":"2023-01-06T00:00","value":480},{"member":"B32","date":"2023-01-07T00:00","value":460},{"member":"B32","date":"2023-01-08T00:00","value":430},{"member":"B32","date":"2023-01-09T00:00","value":390},{"member":"B32","date":"2023-01-10T00:00","value":350},{"member":"B32","date":"2023-01-11T00:00","value":310},{"member":"B32","date":"2023-01-12T00:00","value":270},{"member":"B32","date":"2023-01-13T00:00","value":230},
{"member":"B33","date":"2022-12-28T00:00","value":98},{"member":"B33","date":"2022-12-29T00:00","value":102},{"member":"B33","date":"2022-12-30T00:00","value":82},{"member":"B33","date":"2022-12-31T00:00","value":125},{"member":"B33","date":"2023-01-01T00:00","value":245},{"member":"B33","date":"2023-01-02T00:00","value":385},{"member":"B33","date":"2023-01-03T00:00","value":475},{"member":"B33","date":"2023-01-04T00:00","value":515},{"member":"B33","date":"2023-01-05T00:00","value":525},{"member":"B33","date":"2023-01-06T00:00","value":525},{"member":"B33","date":"2023-01-07T00:00","value":505},{"member":"B33","date":"2023-01-08T00:00","value":470},{"member":"B33","date":"2023-01-09T00:00","value":430},{"member":"B33","date":"2023-01-10T00:00","value":390},{"member":"B33","date":"2023-01-11T00:00","value":360},{"member":"B33","date":"2023-01-12T00:00","value":340},{"member":"B33","date":"2023-01-13T00:00","value":320},
{"member":"B34","date":"2022-12-28T00:00","value":84},{"member":"B34","date":"2022-12-29T00:00","value":78},{"member":"B34","date":"2022-12-30T00:00","value":42},{"member":"B34","date":"2022-12-31T00:00","value":62},{"member":"B34","date":"2023-01-01T00:00","value":160},{"member":"B34","date":"2023-01-02T00:00","value":295},{"member":"B34","date":"2023-01-03T00:00","value":400},{"member":"B34","date":"2023-01-04T00:00","value":445},{"member":"B34","date":"2023-01-05T00:00","value":455},{"member":"B34","date":"2023-01-06T00:00","value":450},{"member":"B34","date":"2023-01-07T00:00","value":420},{"member":"B34","date":"2023-01-08T00:00","value":370},{"member":"B34","date":"2023-01-09T00:00","value":310},{"member":"B34","date":"2023-01-10T00:00","value":250},{"member":"B34","date":"2023-01-11T00:00","value":190},{"member":"B34","date":"2023-01-12T00:00","value":140},{"member":"B34","date":"2023-01-13T00:00","value":110}
]
},
"resolve":{"scale":{"color":"independent"}},
"vconcat":[
{
"width":681,"height":282,
"title":{"text":"10 hPa 60°N \u00a0\u00a0Height Wave-1 Amplitudes"},
"layer":[
 {"data":{"name":"w1_ens"},"mark":{"type":"line","strokeWidth":1,"opacity":0.85,"clip":true},
  "encoding":{
   "x":{"field":"date","type":"temporal","scale":{"domain":[{"year":2022,"month":12,"date":21},{"year":2023,"month":1,"date":13}]},
        "axis":{"orient":"bottom","title":"Date (MMDD)","tickCount":{"interval":"day","step":1},"labelExpr":"indexof(['1225','0101','0105','0110'], timeFormat(datum.value, '%m%d')) >= 0 ? timeFormat(datum.value, '%m%d') : ''","tickSize":10,"labelPadding":4,"titlePadding":5,"labelOverlap":false,"labelFlush":false}},
   "y":{"field":"value","type":"quantitative","scale":{"domain":[400,1700],"nice":false,"zero":false},
        "axis":{"orient":"left","title":"Wave Amplitude [gpm]","values":[400,600,800,1000,1200,1400,1600],"tickSize":13,"labelPadding":3,"titlePadding":10,"format":"d"}},
   "detail":{"field":"member","type":"nominal"},
   "color":{"datum":"Ensemble Members","type":"nominal","scale":{"domain":["GFS","GEOS-5","GEFS Ens Avg","CMC-GEPS Ens Avg","FNMOC-EFS Ens Avg","Ensemble Members"],"range":["#ff8c2b","#a044b4","#159a15","#8ebfe6","#e3189b","#27565d"]},"legend":null}
  }},
 {"data":{"name":"w1_ana"},"mark":{"type":"line","strokeWidth":2.75},
  "encoding":{
   "x":{"field":"date","type":"temporal","axis":null},
   "y":{"field":"value","type":"quantitative","axis":{"orient":"left","title":null,"labels":false,"tickSize":9,"values":[400,440,480,520,560,600,640,680,720,760,800,840,880,920,960,1000,1040,1080,1120,1160,1200,1240,1280,1320,1360,1400,1440,1480,1520,1560,1600,1640,1680]}},
   "color":{"field":"model","type":"nominal","legend":null}
  }},
 {"data":{"name":"w1_fc"},"mark":{"type":"line","strokeWidth":2.75,"clip":true},
  "encoding":{
   "x":{"field":"date","type":"temporal","axis":null},
   "y":{"field":"value","type":"quantitative","axis":{"orient":"right","title":null,"labels":false,"tickSize":13,"values":[400,600,800,1000,1200,1400,1600]}},
   "color":{"field":"model","type":"nominal","legend":null}
  }},
 {"data":{"values":[{}]},"mark":{"type":"rule","color":"#ffffff","strokeWidth":2,"strokeDash":[6,4]},
  "encoding":{
   "x":{"datum":{"year":2022,"month":12,"date":28},"type":"temporal","axis":null},
   "y":{"datum":400,"type":"quantitative","axis":{"orient":"right","title":null,"labels":false,"tickSize":9,"values":[400,440,480,520,560,600,640,680,720,760,800,840,880,920,960,1000,1040,1080,1120,1160,1200,1240,1280,1320,1360,1400,1440,1480,1520,1560,1600,1640,1680]}},
   "y2":{"datum":1700}
  }},
 {"data":{"values":[{}]},"mark":{"type":"text","align":"left","baseline":"alphabetic","dx":10,"dy":23,"fontSize":21,"color":"#ffffff"},
  "encoding":{
   "x":{"datum":{"year":2022,"month":12,"date":21},"type":"temporal","axis":null},
   "y":{"datum":1700,"type":"quantitative","axis":null},
   "text":{"value":"Init: 2022-12-28"}
  }}
],
"resolve":{"axis":{"x":"independent","y":"independent"}}
},
{
"width":681,"height":283,
"title":{"text":"10 hPa 60°N \u00a0Height Wave-2 Amplitudes","offset":-4},
"layer":[
 {"data":{"name":"w2_ens"},"mark":{"type":"line","strokeWidth":1,"opacity":0.85,"clip":true},
  "encoding":{
   "x":{"field":"date","type":"temporal","scale":{"domain":[{"year":2022,"month":12,"date":21},{"year":2023,"month":1,"date":13}]},
        "axis":{"orient":"bottom","title":"Date (MMDD)","tickCount":{"interval":"day","step":1},"labelExpr":"indexof(['1225','0101','0105','0110'], timeFormat(datum.value, '%m%d')) >= 0 ? timeFormat(datum.value, '%m%d') : ''","tickSize":10,"labelPadding":4,"titlePadding":5,"labelOverlap":false,"labelFlush":false}},
   "y":{"field":"value","type":"quantitative","scale":{"domain":[0,700],"nice":false,"zero":false},
        "axis":{"orient":"left","title":"Wave Amplitude [gpm]","values":[0,100,200,300,400,500,600,700],"tickSize":13,"labelPadding":3,"titlePadding":10,"format":"d"}},
   "detail":{"field":"member","type":"nominal"},
   "color":{"datum":"Ensemble Members","type":"nominal","scale":{"domain":["GFS","GEOS-5","GEFS Ens Avg","CMC-GEPS Ens Avg","FNMOC-EFS Ens Avg","Ensemble Members"],"range":["#ff8c2b","#a044b4","#159a15","#8ebfe6","#e3189b","#27565d"]},
     "legend":{"orient":"top-left","offset":3,"title":null,"padding":8,"cornerRadius":5,"fillColor":"rgba(30,30,30,0.85)","labelFontSize":18,"labelLimit":400,"symbolSize":0,"symbolStrokeWidth":0,"symbolOpacity":0,"labelOffset":-19,"rowPadding":5.1,
       "encoding":{"labels":{"fill":{"condition":[{"test":"datum.value === 'GFS'","value":"#ff8c2b"},{"test":"datum.value === 'GEOS-5'","value":"#a044b4"},{"test":"datum.value === 'GEFS Ens Avg'","value":"#159a15"},{"test":"datum.value === 'CMC-GEPS Ens Avg'","value":"#86b8e0"},{"test":"datum.value === 'FNMOC-EFS Ens Avg'","value":"#e3189b"}],"value":"#1f4e55"}}}}}
  }},
 {"data":{"name":"w2_ana"},"mark":{"type":"line","strokeWidth":2.75},
  "encoding":{
   "x":{"field":"date","type":"temporal","axis":{"orient":"bottom","title":"stratobserve.com","labels":false,"ticks":false,"domain":false,"titleAlign":"left","titleAnchor":"start","titleX":-57,"titleY":80,"titleBaseline":"alphabetic","titleFontSize":21}},
   "y":{"field":"value","type":"quantitative","axis":{"orient":"left","title":null,"labels":false,"tickSize":9,"values":[0,20,40,60,80,100,120,140,160,180,200,220,240,260,280,300,320,340,360,380,400,420,440,460,480,500,520,540,560,580,600,620,640,660,680,700]}},
   "color":{"field":"model","type":"nominal","legend":{"title":null}}
  }},
 {"data":{"name":"w2_fc"},"mark":{"type":"line","strokeWidth":2.75,"clip":true},
  "encoding":{
   "x":{"field":"date","type":"temporal","axis":{"orient":"bottom","title":"Figure by Z. D. Lawrence (NMT)","labels":false,"ticks":false,"domain":false,"titleAlign":"right","titleAnchor":"end","titleX":696,"titleY":80,"titleBaseline":"alphabetic","titleFontSize":21}},
   "y":{"field":"value","type":"quantitative","axis":{"orient":"right","title":null,"labels":false,"tickSize":13,"values":[0,100,200,300,400,500,600,700]}},
   "color":{"field":"model","type":"nominal","legend":{"title":null}}
  }},
 {"data":{"values":[{}]},"mark":{"type":"rule","color":"#ffffff","strokeWidth":2,"strokeDash":[6,4]},
  "encoding":{
   "x":{"datum":{"year":2022,"month":12,"date":28},"type":"temporal","axis":null},
   "y":{"datum":0,"type":"quantitative","axis":{"orient":"right","title":null,"labels":false,"tickSize":9,"values":[0,20,40,60,80,100,120,140,160,180,200,220,240,260,280,300,320,340,360,380,400,420,440,460,480,500,520,540,560,580,600,620,640,660,680,700]}},
   "y2":{"datum":700}
  }}
],
"resolve":{"axis":{"x":"independent","y":"independent"}}
}
]
}
